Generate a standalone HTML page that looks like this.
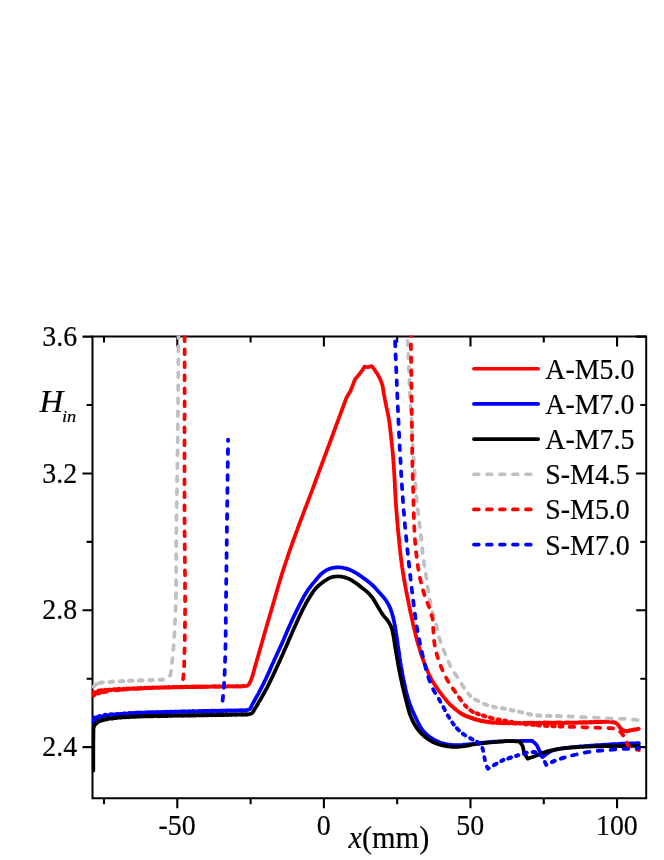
<!DOCTYPE html>
<html><head><meta charset="utf-8"><title>H_in vs x</title>
<style>
html,body{margin:0;padding:0;background:#fff;}
body{width:664px;height:860px;position:relative;overflow:hidden;font-family:"Liberation Serif",serif;}
svg{position:absolute;left:0;top:0;display:block;will-change:transform;}
.t{font-family:"Liberation Serif",serif;fill:#000;stroke:#000;stroke-width:0.18px;}
</style></head><body>
<svg width="664" height="860" viewBox="0 0 664 860">
<defs><clipPath id="c"><rect x="91.5" y="335.5" width="555.7" height="463.75"/></clipPath></defs>
<path d="M104.01,336.5v5.9M104.01,798.25v5.9M177.30,336.5v10M177.30,798.25v10M250.59,336.5v5.9M250.59,798.25v5.9M323.88,336.5v10M323.88,798.25v10M397.18,336.5v5.9M397.18,798.25v5.9M470.47,336.5v10M470.47,798.25v10M543.76,336.5v5.9M543.76,798.25v5.9M617.06,336.5v10M617.06,798.25v10M92.5,747.10h-10M646.2,747.10h-10M92.5,678.68h-5.9M646.2,678.68h-5.9M92.5,610.27h-10M646.2,610.27h-10M92.5,541.85h-5.9M646.2,541.85h-5.9M92.5,473.44h-10M646.2,473.44h-10M92.5,405.02h-5.9M646.2,405.02h-5.9M92.5,336.60h-10M646.2,336.60h-10" stroke="#000" stroke-width="2.1" fill="none"/>
<rect x="92.5" y="336.5" width="553.7" height="461.75" fill="none" stroke="#000" stroke-width="2"/>
<g clip-path="url(#c)" fill="none" stroke-width="3.75" stroke-linejoin="round" stroke-linecap="round">
<path d="M93.3,692.3L93.9,695.7L94.4,695.0L95.0,692.2L95.6,693.1L96.2,692.7L96.8,693.4L97.4,693.8L98.0,690.8L98.7,690.4L99.3,693.3L100.0,691.7L100.7,692.6L101.3,690.1L102.0,691.3L102.6,692.0L103.2,690.5L103.8,692.4L104.4,692.1L105.1,689.7L105.7,689.7L106.3,690.9L106.9,691.7L107.5,690.3L108.1,689.9L108.8,690.3L109.4,689.4L110.0,689.7L110.6,690.1L111.2,690.1L111.9,689.6L112.5,689.5L113.1,689.4L113.7,689.8L114.4,689.5L115.0,688.9L115.6,690.3L116.2,689.8L116.9,689.9L117.5,689.1L118.1,690.3L118.7,690.0L119.4,688.8L120.0,689.1L120.6,689.7L121.2,689.6L121.9,689.9L122.5,689.1L123.0,689.6L123.4,689.4L123.9,688.8L124.4,689.2L124.8,689.5L125.3,689.5L125.7,689.0L126.2,689.1L126.7,688.4L127.1,688.6L127.6,689.2L128.1,688.8L128.5,688.4L129.0,688.9L129.4,689.0L129.9,688.9L130.4,688.6L130.8,688.6L131.3,688.7L131.8,688.9L132.2,688.7L132.7,688.5L133.1,688.6L133.6,688.1L134.1,688.1L134.5,688.7L135.0,688.9L135.4,688.6L135.7,688.4L136.1,688.2L136.4,688.4L136.8,688.8L137.1,688.6L137.5,688.4L137.8,688.7L138.2,688.1L138.5,688.3L138.9,688.7L139.2,688.4L139.6,688.3L139.9,688.1L140.3,688.3L140.6,688.6L141.0,687.8L141.4,688.4L141.7,688.5L142.1,688.5L142.4,688.4L142.8,688.4L143.1,688.2L143.5,688.2L143.8,688.1L144.2,687.8L144.5,688.4L144.9,688.1L145.2,687.8L145.6,688.1L145.9,688.0L146.3,687.9L146.6,687.9L147.0,688.0L147.3,688.1L147.6,688.1L147.9,687.9L148.2,687.6L148.5,687.8L148.8,687.7L149.1,688.0L149.4,688.2L149.7,688.1L150.0,688.1L150.3,688.1L150.6,687.7L150.9,688.1L151.2,688.0L151.5,687.6L151.8,687.5L152.1,687.5L152.4,688.0L152.7,687.6L153.0,687.5L153.3,687.9L153.7,687.7L154.0,687.5L154.3,687.6L154.6,687.8L154.9,687.5L155.2,687.6L155.5,687.9L155.8,687.7L156.1,687.6L156.4,687.7L156.7,687.4L157.0,687.6L157.3,687.6L157.6,687.5L157.9,687.4L158.2,687.9L158.5,687.7L158.8,687.5L159.1,687.7L159.4,687.8L159.7,687.3L160.0,687.3L160.3,687.4L160.6,687.7L160.9,687.4L161.2,687.7L161.5,687.7L161.8,687.6L162.1,687.4L162.4,687.8L162.7,687.7L163.0,687.5L163.4,687.3L163.7,687.6L164.0,687.4L164.3,687.5L164.6,687.3L164.9,687.5L165.2,687.2L165.5,687.3L165.8,687.7L166.1,687.6L166.4,687.3L166.7,687.6L167.0,687.3L167.3,687.6L167.6,687.5L167.9,687.3L168.2,687.2L168.5,687.0L168.8,687.5L169.1,687.0L169.5,687.5L169.8,687.6L170.1,687.3L170.4,687.1L170.7,687.5L171.0,687.5L171.3,687.4L171.6,687.2L171.9,687.1L172.2,687.1L172.5,687.0L172.8,687.3L173.1,687.1L173.4,687.0L173.7,686.9L174.0,687.3L174.3,687.0L174.6,687.1L174.9,687.0L175.2,687.4L175.5,687.4L175.8,686.8L176.1,686.9L176.4,687.0L176.7,687.4L177.0,687.3L177.3,687.0L177.6,686.9L177.9,687.2L178.2,687.3L178.5,687.3L178.8,687.0L179.1,687.3L179.4,687.1L179.7,687.0L180.0,687.3L180.3,686.9L180.6,687.1L180.9,686.8L181.2,686.8L181.5,687.2L181.8,686.8L182.1,687.1L182.4,687.0L182.7,687.2L183.0,686.9L183.3,686.9L183.6,686.8L183.9,687.2L184.2,687.0L184.5,687.2L184.8,687.2L185.1,686.7L185.4,687.0L185.7,686.7L186.0,686.6L186.3,686.7L186.6,687.1L186.9,687.1L187.2,687.1L187.5,686.8L187.8,687.0L188.1,687.1L188.4,686.8L188.7,686.9L189.0,686.7L189.3,686.6L189.6,686.7L189.9,687.1L190.2,686.9L190.5,687.1L190.8,686.8L191.1,686.7L191.4,687.0L191.7,687.0L192.0,686.5L192.4,686.9L192.7,686.6L193.0,686.6L193.3,687.0L193.6,686.5L193.9,686.6L194.2,687.1L194.5,686.8L194.8,686.6L195.1,686.6L195.4,686.6L195.7,686.9L196.0,686.5L196.3,687.0L196.6,686.7L196.9,687.1L197.2,687.0L197.5,686.6L197.8,686.6L198.1,686.7L198.4,686.5L198.7,686.8L199.0,686.5L199.3,686.4L199.6,687.0L199.9,686.6L200.2,686.8L200.5,686.7L200.8,686.6L201.1,686.5L201.4,687.0L201.7,687.0L202.0,687.0L202.3,686.5L202.6,686.5L202.9,686.8L203.2,687.0L203.5,686.7L203.8,686.8L204.1,686.8L204.4,686.5L204.7,686.7L205.0,686.6L205.3,686.5L205.6,686.4L205.9,686.5L206.2,687.0L206.5,686.6L206.8,686.7L207.1,686.7L207.4,686.9L207.7,686.6L208.0,686.5L208.3,686.5L208.6,686.5L208.9,686.8L209.2,686.9L209.5,686.5L209.8,686.5L210.1,686.6L210.4,686.7L210.7,686.7L211.0,686.4L211.3,686.3L211.6,686.4L211.9,686.3L212.2,686.6L212.5,686.3L212.8,686.3L213.1,686.7L213.4,686.4L213.7,686.7L214.0,686.6L214.3,686.8L214.6,686.3L214.9,686.5L215.2,686.7L215.5,686.3L215.8,686.8L216.1,686.3L216.4,686.7L216.7,686.8L217.0,686.7L217.3,686.4L217.6,686.3L217.9,686.5L218.2,686.8L218.5,686.4L218.8,686.7L219.1,686.3L219.4,686.7L219.7,686.2L220.0,686.4L220.3,686.7L220.6,686.7L220.9,686.7L221.2,686.7L221.5,686.6L221.8,686.6L222.1,686.3L222.4,686.4L222.7,686.2L223.0,686.6L223.3,686.5L223.6,686.3L223.9,686.2L224.2,686.7L224.5,686.6L224.8,686.5L225.1,686.4L225.4,686.6L225.7,686.4L226.0,686.3L226.3,686.3L226.6,686.3L226.9,686.1L227.2,686.5L227.5,686.3L227.8,686.4L228.1,686.1L228.4,686.3L228.7,686.2L229.0,686.2L229.3,686.2L229.6,686.6L229.9,686.3L230.2,686.3L230.5,686.4L230.8,686.2L231.1,686.1L231.4,686.4L231.7,686.3L232.0,686.4L232.3,686.3L232.6,686.4L232.9,686.5L233.2,686.2L233.5,686.3L233.8,686.3L234.1,686.2L234.4,686.3L234.7,686.3L235.0,686.6L235.3,686.6L235.6,686.2L235.9,686.4L236.2,686.0L236.5,686.0L236.8,686.3L237.1,686.5L237.4,686.1L237.7,686.4L238.0,686.5L238.3,686.2L238.6,686.4L238.9,686.5L239.2,686.2L239.5,686.4L239.8,686.4L240.1,686.3L240.4,686.5L240.7,686.5L241.0,686.5L241.3,686.3L241.6,686.0L241.9,686.1L242.2,686.1L242.5,686.3L242.8,686.4L243.1,685.9L243.4,686.3L243.7,686.3L244.0,686.1L245.8,686.0L247.5,685.6L248.8,684.4L249.8,682.8L250.6,681.1L251.3,679.3L251.9,677.5L252.4,676.0L252.9,674.4L253.4,672.9L253.8,671.3L254.2,669.7L254.6,668.1L255.1,666.6L255.5,665.0L255.9,663.5L256.4,662.0L256.8,660.5L257.2,659.0L257.7,657.6L258.1,656.1L258.5,654.6L258.9,653.1L259.4,651.6L259.8,650.1L260.2,648.6L260.7,647.1L261.1,645.5L261.5,644.0L262.0,642.5L262.4,641.0L262.8,639.5L263.3,637.9L263.7,636.4L264.1,634.9L264.6,633.4L265.0,631.9L265.4,630.3L265.9,628.8L266.3,627.3L266.7,625.8L267.1,624.4L267.6,622.9L268.0,621.5L268.4,620.0L268.8,618.5L269.3,617.1L269.7,615.6L270.1,614.2L270.6,612.7L271.0,611.3L271.4,609.8L271.8,608.3L272.3,606.9L272.7,605.4L273.1,604.0L273.5,602.5L274.0,601.1L274.4,599.6L274.8,598.1L275.3,596.6L275.7,595.1L276.1,593.6L276.6,592.1L277.0,590.5L277.4,589.0L277.9,587.5L278.3,586.0L278.7,584.5L279.2,583.0L279.6,581.5L280.1,580.0L280.6,578.5L281.1,576.9L281.5,575.4L282.0,573.8L282.5,572.3L283.0,570.7L283.5,569.2L284.0,567.7L284.5,566.1L285.0,564.6L285.5,563.0L286.0,561.5L286.5,560.1L287.0,558.6L287.4,557.2L287.9,555.8L288.4,554.3L288.9,552.9L289.4,551.5L289.9,550.1L290.4,548.6L290.9,547.2L291.4,545.8L291.9,544.4L292.4,542.9L292.9,541.5L293.4,540.1L293.9,538.7L294.5,537.3L295.0,535.8L295.5,534.4L296.0,533.0L296.5,531.6L297.1,530.1L297.6,528.7L298.1,527.2L298.7,525.8L299.2,524.4L299.7,522.9L300.3,521.5L300.8,520.0L301.4,518.6L301.9,517.2L302.5,515.7L303.0,514.3L303.5,512.9L304.1,511.4L304.6,510.0L305.2,508.6L305.7,507.1L306.3,505.7L306.8,504.2L307.4,502.8L307.9,501.4L308.5,499.9L309.0,498.5L309.6,497.0L310.1,495.6L310.7,494.1L311.2,492.6L311.8,491.1L312.3,489.7L312.9,488.2L313.4,486.7L314.0,485.2L314.5,483.8L315.1,482.3L315.6,480.8L316.2,479.3L316.7,477.9L317.3,476.4L317.8,474.9L318.4,473.4L318.9,472.0L319.4,470.5L320.0,469.0L320.5,467.6L321.1,466.2L321.6,464.8L322.1,463.4L322.6,461.9L323.2,460.5L323.7,459.1L324.2,457.7L324.7,456.3L325.3,454.9L325.8,453.5L326.3,452.1L326.8,450.7L327.4,449.3L327.9,447.8L328.4,446.4L329.0,445.0L329.5,443.6L330.0,442.2L330.5,440.8L331.1,439.3L331.6,437.9L332.1,436.5L332.7,435.0L333.2,433.6L333.7,432.2L334.2,430.7L334.8,429.3L335.3,427.8L335.8,426.4L336.3,425.0L336.9,423.5L337.4,422.1L337.9,420.7L338.5,419.2L339.0,417.8L339.5,416.3L340.1,414.9L340.6,413.4L341.2,412.0L341.7,410.5L342.3,409.1L342.8,407.6L343.3,406.1L343.9,404.7L344.4,403.2L345.0,401.8L345.5,400.3L346.1,398.9L346.6,397.4L347.2,396.5L347.7,395.6L348.3,394.7L348.8,393.7L349.4,392.8L349.9,391.9L350.5,391.0L350.9,390.0L351.2,389.1L351.6,388.1L352.0,387.1L352.4,386.2L352.8,385.2L353.1,384.2L353.5,383.3L353.9,382.3L354.2,381.3L354.6,380.4L355.0,379.4L356.0,378.2L356.9,377.1L357.9,375.9L358.9,374.8L359.8,373.6L360.7,372.4L361.7,371.0L362.7,369.6L363.6,368.1L364.6,366.7L366.2,367.0L367.8,367.1L369.8,366.7L371.8,366.1L373.0,367.6L374.2,369.2L375.1,370.5L376.0,371.9L376.9,373.2L377.8,374.6L378.6,376.1L379.3,377.5L380.0,378.9L380.7,380.4L381.3,381.8L381.8,383.3L382.3,385.0L382.7,386.6L383.0,388.3L383.2,390.1L383.5,391.8L383.8,393.5L384.1,395.1L384.4,396.7L384.7,398.3L385.0,399.9L385.4,401.5L385.7,403.1L386.0,404.7L386.3,406.3L386.6,407.9L387.0,409.5L387.3,411.1L387.7,412.7L388.0,414.3L388.3,415.9L388.6,417.5L388.9,419.1L389.1,420.6L389.4,422.2L389.6,423.7L389.8,425.2L389.9,426.8L390.1,428.3L390.3,429.9L390.5,431.4L390.6,433.0L390.8,434.5L391.0,436.0L391.1,437.5L391.3,439.0L391.5,440.5L391.6,442.0L391.8,443.4L392.0,444.9L392.1,446.4L392.3,447.9L392.4,449.4L392.6,450.9L392.7,452.4L392.8,454.0L393.0,455.6L393.1,457.2L393.2,458.8L393.3,460.4L393.5,462.0L393.6,463.6L393.7,465.2L393.8,466.8L393.9,468.4L394.0,470.0L394.1,471.5L394.2,473.0L394.3,474.6L394.4,476.1L394.5,477.6L394.6,479.1L394.6,480.7L394.7,482.2L394.8,483.7L394.9,485.2L394.9,486.7L395.0,488.3L395.1,489.8L395.2,491.3L395.3,492.8L395.3,494.4L395.4,495.9L395.5,497.4L395.6,498.9L395.7,500.4L395.8,502.0L395.9,503.5L396.0,505.0L396.1,506.5L396.2,508.0L396.3,509.5L396.4,511.0L396.6,512.5L396.7,514.0L396.8,515.5L396.9,517.0L397.0,518.5L397.2,520.0L397.3,521.5L397.4,523.0L397.5,524.5L397.7,526.0L397.8,527.5L397.9,529.0L398.1,530.5L398.2,532.0L398.4,533.5L398.5,535.0L398.7,536.6L398.8,538.1L399.0,539.7L399.1,541.3L399.3,542.8L399.4,544.4L399.6,545.9L399.7,547.5L399.9,549.1L400.1,550.6L400.3,552.2L400.4,553.8L400.6,555.3L400.8,556.9L401.0,558.4L401.2,560.0L401.4,561.5L401.6,563.0L401.8,564.6L402.0,566.1L402.2,567.6L402.5,569.1L402.7,570.6L402.9,572.1L403.2,573.6L403.4,575.2L403.6,576.7L403.9,578.2L404.1,579.7L404.4,581.2L404.7,582.7L404.9,584.2L405.2,585.7L405.5,587.2L405.8,588.7L406.1,590.3L406.4,591.8L406.7,593.3L407.0,594.8L407.3,596.3L407.6,597.8L407.9,599.3L408.2,600.8L408.5,602.3L408.8,603.8L409.1,605.3L409.4,606.8L409.7,608.3L410.0,609.8L410.3,611.4L410.6,612.9L411.0,614.4L411.3,615.9L411.6,617.4L411.9,618.9L412.3,620.4L412.6,621.9L412.9,623.4L413.3,625.0L413.6,626.5L414.0,628.0L414.4,629.5L414.7,631.1L415.1,632.6L415.5,634.1L415.8,635.6L416.2,637.1L416.6,638.7L417.0,640.2L417.4,641.7L417.9,643.2L418.3,644.7L418.7,646.2L419.2,647.7L419.7,649.2L420.1,650.8L420.6,652.3L421.1,653.8L421.6,655.3L422.1,656.8L422.6,658.3L423.1,659.8L423.7,661.2L424.2,662.7L424.8,664.2L425.4,665.7L426.0,667.2L426.6,668.7L427.2,670.2L427.8,671.7L428.5,673.2L429.2,674.7L429.8,676.2L430.6,677.6L431.3,679.1L432.1,680.5L433.0,681.9L433.8,683.4L434.8,684.8L435.7,686.2L436.7,687.6L437.6,688.9L438.6,690.3L439.5,691.5L440.4,692.8L441.3,694.0L442.2,695.2L443.2,696.4L444.1,697.6L445.1,698.8L445.2,698.9L445.3,699.0L445.4,699.2L445.5,699.3L445.6,699.4L445.7,699.5L445.8,699.6L445.9,699.7L446.0,699.9L446.0,700.0L446.1,700.1L446.2,700.2L446.3,700.3L446.4,700.4L446.5,700.6L446.6,700.7L446.7,700.8L446.8,701.0L446.9,701.0L447.0,701.2L447.1,701.2L447.2,701.3L447.3,701.5L447.4,701.5L447.5,701.8L447.6,701.9L447.7,701.9L447.8,702.1L447.9,702.2L448.0,702.2L448.1,702.4L448.2,702.5L448.3,702.7L448.4,702.6L448.5,702.8L448.6,703.0L448.7,703.0L448.8,703.2L448.9,703.3L449.0,703.5L449.1,703.5L449.2,703.6L449.3,703.8L449.4,703.8L449.5,704.0L449.6,704.0L449.7,704.2L449.8,704.4L449.9,704.5L450.0,704.6L450.1,704.6L450.2,704.7L450.3,704.9L450.4,705.0L450.5,705.1L450.7,705.1L450.8,705.2L450.9,705.2L451.0,705.5L451.1,705.4L451.2,705.7L451.3,705.8L451.4,706.0L451.6,706.0L451.7,706.2L451.8,706.0L451.9,706.3L452.0,706.4L452.1,706.4L452.2,706.6L452.4,706.6L452.5,706.8L452.6,706.7L452.7,706.9L452.8,707.0L452.9,707.1L453.1,707.2L453.2,707.5L453.3,707.5L453.4,707.5L453.5,707.7L453.7,707.7L453.8,707.7L453.9,707.7L454.0,707.9L454.1,708.2L454.3,708.4L454.4,708.4L454.5,708.4L454.6,708.7L454.7,708.6L454.9,708.8L455.0,708.7L455.1,709.0L455.2,709.2L455.3,709.0L455.5,709.0L455.6,709.3L455.7,709.3L455.8,709.4L455.9,709.3L456.1,709.6L456.2,709.7L456.3,709.8L456.5,710.1L456.7,710.2L456.9,710.4L457.1,710.6L457.3,710.7L457.5,710.7L457.7,711.0L457.9,711.1L458.1,711.3L458.3,711.5L458.6,711.5L458.8,711.8L459.0,711.9L459.2,712.3L459.4,712.3L459.6,712.5L459.8,712.6L460.0,712.8L460.2,712.8L460.4,712.8L460.6,712.9L460.9,713.3L461.1,713.6L461.3,713.5L461.5,713.4L461.7,714.0L461.9,713.9L462.2,714.0L462.4,713.9L462.6,714.3L462.9,714.6L463.2,714.6L463.6,714.7L463.9,715.1L464.2,714.8L464.5,715.3L464.9,715.8L465.2,715.7L465.5,715.7L465.9,716.0L466.2,716.1L466.5,715.9L466.9,716.1L467.2,716.7L467.6,716.4L467.9,716.4L468.3,717.1L468.6,717.0L468.9,717.0L469.3,717.2L469.6,717.5L470.0,717.2L470.3,717.7L470.7,717.8L471.0,718.1L471.4,717.8L471.8,718.2L472.2,718.0L472.5,718.4L472.9,718.2L473.3,718.8L473.7,719.0L474.1,718.7L474.5,718.8L474.9,719.5L475.3,719.4L475.7,719.6L476.1,719.1L476.4,719.9L476.8,719.8L477.2,719.7L477.6,719.9L478.0,720.2L478.4,720.4L478.8,720.0L479.2,720.4L479.6,720.2L480.0,720.9L480.4,720.6L480.8,721.1L481.2,721.0L481.6,721.0L482.0,720.8L482.4,721.1L482.8,720.9L483.2,720.9L483.6,721.5L484.0,721.3L484.4,721.6L484.8,721.3L485.2,721.7L485.6,721.8L486.1,721.5L486.5,721.4L486.9,721.7L487.3,721.9L487.7,721.6L488.1,721.7L488.5,721.7L488.9,722.1L489.3,722.4L489.7,721.9L490.2,721.8L490.6,722.4L491.0,722.5L491.4,722.7L491.8,722.5L492.2,722.3L492.6,722.7L493.0,722.2L493.4,722.7L493.8,722.2L494.2,722.5L494.6,722.6L495.1,722.5L495.5,722.4L495.9,722.4L496.3,722.9L496.7,722.7L497.1,722.8L497.5,722.5L497.9,722.9L498.3,722.6L498.7,722.9L499.1,723.1L499.5,723.2L500.0,722.5L500.4,723.1L500.8,723.1L501.2,722.7L501.6,722.8L502.0,723.0L502.4,723.3L502.8,722.9L503.2,723.3L503.6,723.2L504.0,722.7L504.4,723.3L504.8,722.6L505.2,722.7L505.6,723.2L506.0,722.7L506.4,723.0L506.8,722.8L507.2,723.0L507.7,723.3L508.1,723.4L508.5,722.7L508.9,722.7L509.3,723.4L509.7,722.7L510.1,722.9L510.5,722.8L510.9,722.8L511.3,722.8L511.7,723.2L512.1,723.3L512.5,723.3L512.9,723.4L513.3,723.3L513.7,723.1L514.1,723.3L514.5,723.5L514.9,723.3L515.3,723.0L515.7,722.8L516.1,723.5L516.5,723.2L516.9,723.0L517.3,723.2L517.7,723.2L518.2,723.2L518.6,722.8L519.0,723.0L519.4,723.1L519.8,722.9L520.2,723.5L520.6,723.1L521.0,723.3L521.4,723.3L521.8,723.3L522.2,723.3L522.6,723.3L523.0,722.9L523.4,723.5L523.8,722.8L524.2,723.4L524.6,723.4L525.0,723.4L525.4,722.7L525.8,722.8L526.2,723.3L526.6,723.1L527.0,723.0L527.4,723.5L527.9,722.7L528.3,723.1L528.7,723.0L529.1,722.8L529.5,723.0L529.9,723.2L530.3,723.3L530.7,722.7L531.1,723.0L531.5,722.7L531.9,723.3L532.3,722.7L532.7,722.6L533.1,722.9L533.5,723.2L533.9,722.8L534.3,722.7L534.7,723.2L535.1,723.2L535.5,723.3L535.9,722.8L536.3,722.9L536.7,722.7L537.1,723.0L537.6,722.8L538.0,722.8L538.4,723.2L538.8,723.3L539.2,723.0L539.6,722.6L540.0,723.0L540.4,722.9L540.8,723.3L541.2,723.1L541.6,723.2L542.0,723.1L542.4,722.9L542.7,723.2L542.9,723.2L543.2,722.7L543.4,722.6L543.7,722.8L543.9,722.9L544.2,722.6L544.4,722.8L544.7,722.9L544.9,722.5L545.2,723.1L545.4,723.0L545.7,722.7L545.9,722.7L546.2,722.8L546.4,722.7L546.7,723.1L546.9,722.9L547.2,722.9L547.4,722.6L547.7,723.2L547.9,722.7L548.2,722.7L548.4,722.5L548.7,723.2L548.9,722.8L549.2,723.2L549.4,723.2L549.7,723.2L549.9,723.1L550.2,723.2L550.4,723.2L550.7,723.1L550.9,722.6L551.2,722.9L551.4,722.9L551.7,723.2L551.9,723.1L552.2,723.0L552.4,723.0L552.7,722.7L552.9,723.2L553.2,722.9L553.4,722.8L553.7,722.8L553.9,723.2L554.2,722.9L554.4,722.6L554.7,722.6L554.9,723.0L555.2,722.9L555.4,723.1L555.7,722.6L555.9,722.8L556.2,723.0L556.4,722.5L556.7,722.5L556.9,722.8L557.2,722.6L557.4,722.5L557.7,722.6L557.9,722.9L558.2,722.8L558.4,722.5L558.7,722.5L558.9,723.0L559.2,722.9L559.4,722.6L559.7,723.0L559.9,722.5L560.2,722.7L560.4,723.0L560.7,722.9L561.0,722.6L561.2,723.0L561.5,722.8L561.7,723.0L562.0,723.0L562.2,722.7L562.5,722.9L562.7,722.8L563.0,723.0L563.2,722.9L563.5,722.9L563.7,722.9L564.0,723.1L564.2,722.6L564.5,722.6L564.7,722.9L565.0,722.9L565.2,722.7L565.5,722.7L565.7,722.7L566.0,723.0L566.2,722.9L566.5,722.8L566.7,722.4L567.0,722.9L567.2,722.7L567.5,722.5L567.7,722.6L568.0,722.8L568.2,722.4L568.5,722.5L568.7,722.6L569.0,722.9L569.2,722.8L569.5,723.0L569.7,722.7L570.0,722.7L570.2,722.7L570.5,722.7L570.7,722.7L571.0,722.8L571.2,722.9L571.5,722.6L571.7,722.7L572.0,722.5L572.2,722.5L572.5,722.6L572.7,722.7L573.0,722.7L573.2,722.9L573.5,722.4L573.7,722.7L574.0,722.9L574.2,722.7L574.5,722.6L574.7,722.5L575.0,722.5L575.2,722.8L575.5,722.8L575.7,722.7L576.0,722.8L576.2,722.8L576.5,722.8L576.7,722.5L577.0,722.5L577.2,722.7L577.5,722.5L577.7,722.7L578.0,722.5L578.2,722.5L578.5,722.5L578.7,722.3L579.0,722.4L579.2,722.5L579.5,722.3L579.7,722.3L580.0,722.4L580.2,722.7L580.4,722.5L580.6,722.4L580.8,722.7L581.0,722.4L581.2,722.5L581.4,722.6L581.6,722.6L581.8,722.4L582.0,722.6L582.2,722.4L582.4,722.6L582.6,722.4L582.8,722.7L583.0,722.5L583.2,722.2L583.4,722.2L583.6,722.6L583.8,722.3L584.0,722.2L584.2,722.3L584.4,722.4L584.6,722.6L584.8,722.3L585.0,722.5L585.2,722.5L585.4,722.2L585.6,722.4L585.8,722.6L586.0,722.4L586.2,722.4L586.4,722.3L586.6,722.5L586.8,722.6L587.0,722.1L587.2,722.3L587.4,722.3L587.6,722.4L587.8,722.1L588.0,722.2L588.2,722.2L588.4,722.3L588.6,722.4L588.8,722.4L589.0,722.4L589.2,722.3L589.4,722.1L589.6,722.2L589.8,722.3L590.0,722.1L590.2,722.2L590.4,722.4L590.6,722.0L590.8,722.4L591.0,722.0L591.2,722.1L591.4,722.4L591.6,722.1L591.8,722.2L592.0,722.1L592.2,722.3L592.4,722.4L592.6,722.1L592.8,722.1L593.0,722.3L593.2,722.2L593.4,722.0L593.6,722.2L593.8,722.0L594.0,722.1L594.2,721.9L594.4,722.3L594.6,722.2L594.8,722.3L595.0,722.3L595.2,722.0L595.4,722.1L595.6,722.0L595.8,722.2L596.0,722.2L596.2,721.9L596.4,721.9L596.6,722.1L596.8,722.0L597.0,721.9L597.2,721.9L597.4,722.0L597.6,722.0L597.8,722.2L598.0,722.0L598.2,722.0L598.4,721.8L598.6,721.9L598.8,721.9L599.0,722.0L599.2,721.8L599.4,721.8L599.6,721.9L599.8,721.9L600.0,721.8L600.2,722.0L600.4,721.8L600.6,722.1L600.8,722.0L601.0,721.9L601.2,721.7L601.4,721.8L601.6,721.9L601.8,721.9L602.0,722.0L602.2,722.0L602.4,721.8L602.6,721.8L602.8,721.8L603.0,721.7L603.2,721.7L603.4,721.7L603.6,721.6L603.8,721.8L604.0,721.9L604.2,721.8L604.4,721.9L604.6,721.7L604.8,721.6L605.0,721.8L605.2,721.9L605.4,721.7L605.6,721.5L605.8,721.5L606.0,721.6L606.2,721.8L606.4,721.5L606.6,721.6L606.8,721.8L607.0,721.9L607.2,721.6L607.4,721.7L607.6,721.7L607.8,721.5L608.0,721.6L608.2,721.5L608.4,721.5L608.6,721.8L608.8,721.7L609.0,721.4L609.2,721.5L609.4,721.7L609.6,721.5L609.8,721.5L610.0,721.5L610.2,721.5L610.4,721.5L610.6,721.6L610.8,721.7L611.0,722.0L611.2,721.9L611.4,721.8L611.6,722.0L611.8,721.9L612.1,722.0L612.3,722.0L612.5,722.3L612.7,722.1L612.9,722.3L613.1,722.2L613.3,722.4L613.5,722.3L613.7,722.5L613.9,722.3L614.1,722.5L614.3,722.5L614.5,722.5L614.7,722.6L614.9,722.7L615.1,722.7L615.3,722.9L615.5,722.9L615.6,722.9L615.8,722.8L616.0,723.1L616.2,723.1L616.3,723.2L616.5,723.4L616.7,723.5L616.8,723.5L617.0,723.7L617.1,723.9L617.3,724.0L617.4,724.1L617.5,724.2L617.7,724.4L617.8,724.7L617.9,724.8L618.1,725.0L618.2,725.3L618.3,725.4L618.4,725.5L618.6,725.4L618.7,725.7L618.8,726.0L618.9,726.0L619.1,726.5L619.2,726.3L619.3,726.8L619.4,726.7L619.5,727.1L619.7,727.3L619.8,727.3L619.9,727.7L620.1,727.6L620.2,728.0L620.3,728.0L620.5,728.1L620.6,728.2L620.7,728.5L620.9,728.5L621.0,728.8L621.2,729.0L621.3,729.1L621.5,729.0L621.6,729.5L621.8,729.6L622.0,729.6L622.1,729.6L622.3,729.8L622.5,730.0L622.7,729.9L622.9,730.1L623.1,730.2L623.2,730.2L623.4,730.5L623.6,730.4L623.8,730.5L624.0,730.4L624.2,730.7L624.4,730.6L624.6,730.9L624.8,730.7L624.9,730.8L625.1,731.0L625.3,731.1L625.5,731.3L625.7,731.3L625.9,731.3L626.1,731.5L626.3,731.4L626.5,731.3L626.7,731.3L626.9,731.3L627.1,731.0L627.3,731.2L627.5,730.9L627.7,731.0L627.9,730.9L628.1,730.8L628.3,731.0L628.5,731.0L628.7,730.7L628.9,730.9L629.1,730.6L629.3,730.7L629.5,730.8L629.7,730.7L629.9,730.3L630.1,730.5L630.3,730.4L630.5,730.3L630.7,730.5L630.9,730.3L631.1,730.4L631.3,730.3L631.5,730.2L631.7,730.0L631.9,730.2L632.1,730.2L632.3,729.9L632.5,730.1L632.7,730.0L632.9,729.9L633.1,730.0L633.3,730.0L633.5,729.6L633.7,729.9L633.9,729.7L634.1,729.8L634.3,729.5L634.5,729.7L634.7,729.4L634.9,729.5L635.1,729.7L635.3,729.6L635.5,729.6L635.7,729.4L635.9,729.4L636.1,729.4L636.3,729.4L636.5,729.4L636.7,729.1L636.9,729.2L637.1,729.2L637.3,729.2L637.5,729.3L637.7,729.2L637.9,728.9L638.1,729.0L638.3,728.8L638.5,728.8L638.7,728.8L638.9,728.8" stroke="#ff0000"/>
<path d="M93.3,722.5L93.7,722.0L94.1,717.8L94.5,717.5L95.0,720.1L95.6,719.3L96.1,718.7L96.8,717.2L97.4,717.9L98.0,717.6L98.6,717.3L99.3,716.0L99.9,716.5L100.5,716.2L101.2,716.8L101.8,717.2L102.5,716.9L103.1,715.9L103.7,715.6L104.4,715.2L105.0,714.7L105.6,714.6L106.2,715.3L106.9,715.0L107.5,715.0L108.1,715.7L108.7,715.1L109.4,715.1L110.0,714.5L110.5,714.2L110.9,714.6L111.4,714.3L111.8,714.7L112.3,715.3L112.7,714.8L113.2,714.2L113.6,715.0L114.1,714.8L114.5,714.7L115.0,714.9L115.4,714.7L115.9,714.6L116.4,714.1L116.8,714.8L117.3,714.7L117.7,713.8L118.2,714.4L118.6,714.3L119.1,714.0L119.5,714.1L120.0,714.0L120.3,714.4L120.6,714.0L120.9,714.2L121.2,713.8L121.5,714.2L121.8,714.2L122.1,713.8L122.4,713.9L122.7,714.2L123.0,714.0L123.3,713.8L123.6,713.5L123.9,713.6L124.2,713.9L124.5,713.4L124.8,714.0L125.1,713.5L125.4,714.0L125.7,713.5L126.0,713.9L126.3,713.7L126.6,713.6L126.9,713.6L127.2,713.6L127.5,713.6L127.8,713.3L128.1,713.3L128.4,713.5L128.7,713.8L129.0,713.5L129.3,713.1L129.6,713.6L129.9,713.5L130.2,713.6L130.5,713.1L130.8,713.5L131.1,713.0L131.4,713.4L131.7,713.1L132.0,713.1L132.3,713.5L132.6,713.0L132.9,713.2L133.2,713.4L133.5,713.0L133.8,713.0L134.1,713.4L134.4,713.1L134.7,713.2L135.0,712.8L135.3,713.0L135.6,712.9L135.9,713.2L136.2,712.8L136.5,713.3L136.8,712.7L137.1,713.1L137.4,712.7L137.7,712.8L138.0,713.1L138.3,712.7L138.6,712.7L138.9,713.0L139.2,712.8L139.5,712.6L139.8,713.2L140.1,712.6L140.4,712.6L140.7,712.7L141.0,712.9L141.3,712.9L141.6,712.6L141.9,712.7L142.2,712.5L142.5,712.7L142.8,712.9L143.1,712.9L143.4,713.0L143.7,712.9L144.0,712.9L144.3,712.8L144.6,712.6L144.9,712.5L145.2,712.7L145.5,712.5L145.8,712.4L146.1,712.6L146.4,712.8L146.7,712.4L147.0,712.6L147.3,712.5L147.6,712.6L147.9,712.3L148.2,712.8L148.5,712.4L148.8,712.6L149.1,712.5L149.4,712.2L149.7,712.5L150.0,712.3L150.3,712.2L150.6,712.2L150.9,712.2L151.2,712.2L151.5,712.5L151.8,712.4L152.1,712.7L152.4,712.7L152.7,712.7L153.0,712.2L153.3,712.3L153.6,712.2L153.9,712.4L154.2,712.4L154.5,712.5L154.8,712.5L155.1,712.2L155.4,712.3L155.7,712.3L156.0,712.0L156.3,712.0L156.6,712.2L156.9,712.0L157.2,712.4L157.5,712.1L157.8,712.0L158.1,712.0L158.4,712.1L158.7,712.1L159.0,712.2L159.3,712.2L159.6,712.1L159.9,712.3L160.2,712.0L160.5,712.4L160.8,712.4L161.1,712.3L161.4,712.1L161.7,712.2L162.0,712.2L162.3,711.9L162.6,712.1L162.9,712.1L163.2,711.9L163.5,711.9L163.8,712.3L164.1,712.0L164.4,712.1L164.7,712.3L165.0,712.1L165.3,711.9L165.6,712.3L165.9,712.0L166.2,711.7L166.5,712.1L166.8,711.8L167.1,711.9L167.4,712.2L167.7,712.1L168.0,711.7L168.3,712.0L168.6,711.9L168.9,712.0L169.2,711.8L169.5,712.0L169.8,711.7L170.1,711.8L170.4,711.9L170.7,712.2L171.0,711.7L171.3,712.1L171.6,711.7L171.9,711.9L172.2,711.8L172.5,711.9L172.8,712.0L173.1,711.8L173.4,711.6L173.7,711.6L174.0,711.6L174.3,712.1L174.6,711.9L174.9,712.1L175.2,711.9L175.5,711.5L175.8,711.9L176.1,712.0L176.4,711.9L176.7,711.8L177.0,711.7L177.3,711.7L177.6,711.9L177.9,711.6L178.2,711.8L178.5,711.7L178.8,712.0L179.1,711.9L179.4,712.0L179.7,711.9L180.0,711.6L180.3,711.5L180.6,711.7L180.9,711.5L181.2,711.6L181.5,711.8L181.8,711.9L182.1,711.7L182.4,711.8L182.7,711.4L183.0,711.5L183.3,711.9L183.6,711.4L183.9,711.5L184.2,711.3L184.5,711.3L184.8,711.8L185.1,711.9L185.4,711.7L185.7,711.3L186.0,711.4L186.3,711.4L186.6,711.6L186.9,711.6L187.2,711.5L187.5,711.5L187.8,711.3L188.1,711.5L188.4,711.8L188.7,711.6L189.0,711.2L189.3,711.5L189.6,711.6L189.9,711.3L190.2,711.7L190.5,711.4L190.8,711.6L191.1,711.4L191.4,711.7L191.7,711.6L192.0,711.4L192.3,711.2L192.6,711.4L192.9,711.1L193.2,711.4L193.5,711.6L193.8,711.2L194.1,711.4L194.4,711.3L194.7,711.3L195.0,711.5L195.3,711.6L195.6,711.4L195.9,711.3L196.2,711.6L196.5,711.2L196.8,711.4L197.1,711.4L197.4,711.4L197.7,711.5L198.0,711.1L198.3,711.3L198.6,711.2L198.9,711.4L199.2,711.5L199.5,711.3L199.8,710.9L200.1,711.2L200.4,711.3L200.7,711.4L201.0,711.3L201.3,711.4L201.6,710.9L201.9,711.5L202.2,711.3L202.5,711.2L202.8,711.4L203.1,711.4L203.5,710.9L203.8,711.3L204.1,711.3L204.4,711.0L204.7,711.3L205.0,711.2L205.3,710.9L205.6,711.3L205.9,710.9L206.2,711.2L206.5,711.1L206.8,710.9L207.1,711.1L207.4,711.1L207.7,710.9L208.0,711.3L208.3,710.8L208.6,710.8L208.9,711.0L209.2,711.2L209.5,711.1L209.8,711.2L210.1,711.0L210.4,711.1L210.7,710.9L211.0,710.9L211.3,711.0L211.6,710.7L211.9,710.7L212.2,711.1L212.5,710.8L212.8,711.1L213.1,711.1L213.4,710.9L213.7,711.1L214.0,711.1L214.3,711.2L214.6,710.7L214.9,710.7L215.2,710.8L215.5,710.9L215.8,710.8L216.1,710.6L216.4,710.9L216.7,711.2L217.0,710.8L217.3,710.9L217.6,710.8L217.9,710.8L218.2,711.1L218.5,710.7L218.8,710.9L219.1,710.8L219.4,710.9L219.7,711.1L220.0,710.6L220.3,711.0L220.6,710.7L220.9,710.9L221.2,711.0L221.5,710.9L221.8,710.7L222.1,711.0L222.4,710.5L222.7,710.8L223.0,710.7L223.3,710.8L223.6,711.0L223.9,710.9L224.2,710.8L224.5,710.6L224.8,710.6L225.1,710.7L225.4,710.6L225.7,710.6L226.0,711.0L226.3,710.5L226.6,710.9L226.9,710.6L227.2,710.6L227.5,710.6L227.8,710.4L228.1,710.6L228.4,710.5L228.7,710.6L229.0,710.5L229.3,710.9L229.6,710.9L229.9,710.6L230.2,710.7L230.5,710.9L230.8,710.5L231.1,710.4L231.4,710.4L231.7,710.4L232.0,710.7L232.3,710.5L232.6,710.5L232.9,710.7L233.2,710.4L233.5,710.7L233.8,710.6L234.1,710.5L234.4,710.7L234.7,710.4L235.0,710.7L235.3,710.8L235.6,710.5L235.9,710.6L236.2,710.8L236.6,710.6L236.9,710.6L237.2,710.7L237.5,710.7L237.8,710.6L238.1,710.8L238.4,710.3L238.7,710.5L239.0,710.5L239.3,710.4L239.6,710.4L239.9,710.2L240.2,710.7L240.5,710.3L240.8,710.4L241.1,710.6L241.4,710.2L241.7,710.7L242.0,710.2L242.3,710.1L242.6,710.3L242.9,710.3L243.2,710.6L243.5,710.6L243.8,710.5L244.1,710.3L244.4,710.4L244.7,710.2L245.0,710.5L245.3,710.3L245.6,710.2L245.9,710.4L246.2,710.1L246.5,710.2L248.1,709.9L249.5,709.3L250.5,708.3L251.2,706.9L251.8,705.4L252.5,704.0L253.3,702.6L254.1,701.2L254.9,699.8L255.7,698.4L256.5,696.9L257.3,695.5L258.1,694.1L258.8,692.8L259.5,691.4L260.2,690.1L260.9,688.7L261.6,687.4L262.3,686.0L263.0,684.6L263.7,683.3L264.3,681.9L265.0,680.5L265.6,679.2L266.3,677.8L266.9,676.4L267.6,675.1L268.2,673.7L268.8,672.3L269.5,670.9L270.1,669.5L270.7,668.1L271.3,666.7L271.9,665.3L272.5,664.0L273.2,662.6L273.8,661.2L274.4,659.8L275.0,658.4L275.7,657.0L276.3,655.7L276.9,654.3L277.6,652.9L278.2,651.5L278.8,650.2L279.5,648.8L280.1,647.4L280.7,646.0L281.4,644.7L282.0,643.3L282.6,641.9L283.2,640.5L283.9,639.0L284.5,637.6L285.1,636.1L285.7,634.7L286.3,633.3L286.9,631.8L287.5,630.4L288.2,628.9L288.8,627.5L289.4,626.1L290.1,624.6L290.7,623.2L291.4,621.8L292.0,620.3L292.7,618.9L293.3,617.5L294.0,616.0L294.7,614.6L295.4,613.2L296.1,611.8L296.8,610.3L297.5,608.9L298.2,607.5L298.9,606.1L299.6,604.7L300.3,603.4L301.0,602.0L301.7,600.7L302.4,599.3L303.1,598.0L303.8,596.6L304.6,595.3L305.4,594.0L306.2,592.7L307.0,591.4L307.9,590.0L308.9,588.7L309.9,587.3L310.9,586.0L312.0,584.7L313.0,583.4L314.1,582.1L315.2,580.8L316.3,579.5L317.3,578.2L318.4,577.0L319.5,575.7L320.6,574.5L321.8,573.4L323.1,572.4L324.4,571.5L325.7,570.7L327.1,569.9L328.5,569.3L329.9,568.7L331.4,568.2L333.0,567.8L334.7,567.6L336.4,567.4L338.0,567.4L339.7,567.4L341.4,567.5L343.1,567.8L344.7,568.2L346.4,568.6L348.0,569.1L349.4,569.6L350.8,570.3L352.2,570.9L353.6,571.7L355.0,572.4L356.3,573.2L357.7,574.0L359.0,574.9L360.4,575.8L361.7,576.7L363.0,577.7L364.3,578.6L365.6,579.6L366.9,580.6L368.1,581.5L369.4,582.5L370.6,583.5L371.8,584.5L373.0,585.6L374.2,586.8L375.3,588.0L376.4,589.3L377.5,590.5L378.6,591.8L379.7,593.0L380.9,594.2L382.0,595.5L383.1,596.7L384.2,598.0L385.2,599.4L386.2,600.7L387.1,602.2L388.0,603.6L388.8,605.1L389.5,606.6L390.2,608.1L390.8,609.7L391.3,611.2L391.8,612.8L392.3,614.4L392.7,615.8L393.1,617.3L393.5,618.8L393.8,620.3L394.1,621.7L394.4,623.2L394.7,624.7L395.0,626.3L395.3,627.9L395.5,629.4L395.8,631.0L396.0,632.6L396.3,634.2L396.5,635.8L396.7,637.4L397.0,639.0L397.2,640.7L397.5,642.3L397.7,643.9L397.9,645.5L398.2,647.2L398.4,648.8L398.6,650.3L398.8,651.9L399.1,653.4L399.3,654.9L399.5,656.4L399.7,658.0L400.0,659.5L400.2,661.0L400.4,662.5L400.7,664.1L400.9,665.6L401.2,667.1L401.5,668.6L401.7,670.2L402.0,671.7L402.3,673.2L402.5,674.7L402.8,676.2L403.1,677.8L403.4,679.3L403.7,680.8L404.1,682.3L404.4,683.8L404.7,685.3L405.1,686.8L405.4,688.3L405.7,689.7L406.1,691.2L406.4,692.7L406.8,694.2L407.2,695.6L407.6,697.1L408.0,698.6L408.5,700.0L409.0,701.5L409.5,703.1L410.1,704.6L410.7,706.1L411.3,707.6L411.9,709.1L412.5,710.6L413.1,712.1L413.8,713.5L414.5,715.0L415.2,716.4L415.8,717.8L416.5,719.2L417.1,720.6L417.8,722.0L418.5,723.4L419.2,724.8L420.0,726.2L420.8,727.5L421.6,728.8L422.5,730.0L423.5,731.2L424.5,732.3L425.6,733.4L426.7,734.4L427.9,735.4L429.1,736.4L430.3,737.3L431.6,738.2L433.0,739.0L434.3,739.8L435.6,740.5L437.0,741.2L438.5,741.8L440.0,742.4L441.5,743.0L443.1,743.4L444.7,743.8L446.3,744.2L448.0,744.5L449.6,744.7L451.2,744.9L452.9,745.1L454.5,745.2L456.1,745.2L457.6,745.2L459.2,745.1L460.7,745.0L462.3,744.9L463.9,744.7L465.4,744.5L467.0,744.4L468.6,744.3L470.1,744.1L471.7,744.0L473.3,743.8L474.8,743.6L476.4,743.4L477.9,743.3L479.5,743.1L481.1,742.9L482.6,742.7L484.2,742.5L485.7,742.4L487.3,742.2L488.9,742.0L490.4,741.9L492.0,741.8L493.6,741.7L495.1,741.6L496.7,741.5L498.2,741.5L499.8,741.4L501.4,741.3L502.9,741.3L504.5,741.2L506.1,741.2L507.6,741.2L509.2,741.1L510.7,741.1L512.3,741.1L513.9,741.1L515.4,741.0L517.0,741.0L518.5,741.0L520.1,741.0L521.6,740.9L523.1,740.9L524.6,740.9L526.2,740.9L527.7,740.9L529.2,740.9L530.8,740.9L532.3,740.9L533.6,742.1L535.0,743.2L536.2,744.5L537.1,745.8L537.8,747.2L538.5,748.7L539.2,750.1L540.0,751.5L541.2,753.1L542.4,754.6L543.6,756.2L545.1,755.0L546.7,753.7L548.3,752.6L549.7,751.8L551.2,751.1L552.8,750.5L554.4,750.0L556.0,749.6L557.6,749.2L559.2,748.8L560.8,748.5L562.4,748.3L564.1,748.1L565.7,747.9L567.4,747.8L569.0,747.6L570.6,747.4L572.2,747.2L573.8,747.1L575.5,746.9L577.1,746.8L578.7,746.6L580.4,746.4L582.0,746.3L583.7,746.2L585.3,746.0L587.0,745.9L588.5,745.8L590.0,745.7L591.5,745.6L593.0,745.5L594.5,745.3L596.0,745.2L597.5,745.1L599.0,745.1L600.5,745.0L602.0,744.9L603.5,744.8L605.0,744.7L606.5,744.6L608.0,744.5L609.5,744.4L611.1,744.3L612.6,744.2L614.2,744.1L615.7,744.1L617.3,744.0L618.8,743.9L620.4,743.8L621.9,743.7L623.5,743.7L625.0,743.6L626.5,743.5L628.1,743.5L629.6,743.4L631.2,743.4L632.7,743.4L634.3,743.3L635.8,743.3L637.4,743.2L638.9,743.2" stroke="#0000ff"/>
<path d="M93.3,770.5L93.3,769.0L93.3,767.5L93.3,766.0L93.3,764.5L93.3,763.0L93.3,761.5L93.3,760.0L93.3,758.5L93.3,757.0L93.3,755.5L93.3,754.0L93.3,752.5L93.3,751.0L93.3,749.5L93.3,748.0L93.3,746.5L93.3,745.0L93.3,743.5L93.3,741.9L93.3,740.4L93.4,738.8L93.4,737.3L93.4,735.7L93.4,734.2L93.4,732.6L93.5,731.1L93.5,729.5L93.5,728.0L93.7,727.0L94.0,726.9L94.2,726.0L94.4,725.8L94.7,725.2L95.0,723.8L95.3,723.4L95.6,724.2L96.0,723.0L96.4,722.7L96.8,723.3L97.2,722.3L97.6,722.4L98.0,721.8L98.3,721.7L98.7,721.1L99.1,721.4L99.4,721.4L99.8,720.9L100.2,721.0L100.6,720.8L101.0,720.1L101.3,720.6L101.7,720.3L102.1,720.0L102.5,719.6L102.8,720.2L103.2,719.8L103.5,719.9L103.8,719.9L104.2,719.7L104.5,719.8L104.9,719.3L105.2,719.5L105.5,719.1L105.9,719.5L106.2,719.3L106.6,718.7L106.9,718.6L107.3,718.6L107.6,719.2L108.0,718.7L108.3,718.8L108.7,718.5L109.0,718.6L109.4,718.5L109.7,718.4L110.1,718.5L110.4,718.5L110.8,718.7L111.1,718.5L111.5,718.6L111.8,718.5L112.2,718.6L112.5,718.3L112.9,717.9L113.2,718.4L113.6,718.4L114.0,718.3L114.3,718.0L114.7,718.1L115.0,717.7L115.3,718.1L115.6,717.9L115.9,717.6L116.2,717.5L116.5,718.0L116.8,718.0L117.1,717.4L117.4,717.8L117.7,717.5L118.0,717.3L118.3,717.4L118.6,717.7L118.9,717.7L119.2,717.1L119.5,717.5L119.8,717.1L120.1,717.5L120.4,717.2L120.7,717.6L121.0,717.6L121.3,717.3L121.6,717.6L121.9,717.1L122.3,716.9L122.6,717.3L122.9,716.9L123.2,717.0L123.5,717.1L123.8,717.2L124.1,716.9L124.4,716.8L124.7,717.3L125.0,716.9L125.3,717.3L125.6,717.3L125.9,716.9L126.2,717.0L126.5,717.0L126.8,717.1L127.1,717.0L127.4,717.0L127.7,717.0L128.0,717.2L128.3,716.9L128.6,716.8L128.9,717.0L129.2,716.7L129.5,716.7L129.8,717.1L130.1,716.8L130.4,716.8L130.8,716.5L131.1,716.7L131.4,716.8L131.7,716.5L132.0,716.8L132.3,716.8L132.6,716.4L132.9,716.8L133.2,716.7L133.5,716.8L133.8,716.6L134.1,716.8L134.4,716.8L134.7,716.3L135.0,716.3L135.3,716.7L135.6,716.8L135.9,716.4L136.2,716.5L136.5,716.6L136.8,716.4L137.1,716.4L137.4,716.4L137.7,716.4L138.0,716.5L138.3,716.3L138.6,716.4L138.9,716.6L139.2,716.1L139.5,716.4L139.8,716.5L140.1,716.3L140.4,716.2L140.7,716.5L141.0,716.2L141.3,716.1L141.6,716.3L141.9,716.4L142.2,716.0L142.5,716.2L142.8,716.2L143.1,716.5L143.4,716.2L143.7,716.4L144.0,716.0L144.3,716.1L144.6,716.3L144.9,716.4L145.2,716.2L145.5,716.0L145.8,715.9L146.1,716.2L146.4,716.0L146.7,716.3L147.0,716.3L147.3,715.9L147.6,716.0L147.9,716.3L148.2,716.2L148.5,716.3L148.8,716.0L149.1,715.9L149.4,716.0L149.7,716.2L150.0,715.9L150.3,716.0L150.6,716.0L150.9,716.0L151.2,716.0L151.5,716.3L151.8,715.8L152.1,715.7L152.4,716.3L152.7,716.2L153.0,716.3L153.3,716.0L153.6,716.3L153.9,716.2L154.2,715.8L154.5,716.1L154.8,716.2L155.1,716.1L155.4,716.0L155.7,715.8L156.0,715.8L156.3,715.8L156.6,715.7L156.9,716.0L157.2,715.8L157.5,716.1L157.8,715.6L158.1,716.2L158.4,716.0L158.7,716.2L159.0,716.1L159.3,716.1L159.6,715.9L159.9,715.6L160.2,716.0L160.5,715.7L160.8,715.8L161.1,716.0L161.4,715.9L161.7,715.8L162.0,716.1L162.3,715.9L162.6,715.8L162.9,715.7L163.2,716.1L163.5,715.8L163.8,716.0L164.1,715.7L164.4,715.6L164.7,715.8L165.0,716.0L165.3,715.6L165.6,716.0L165.9,716.1L166.2,716.0L166.5,716.0L166.8,715.5L167.1,715.9L167.4,716.0L167.7,715.5L168.0,715.6L168.3,715.6L168.6,715.8L168.9,715.7L169.2,715.8L169.5,715.9L169.8,715.5L170.1,715.5L170.4,715.5L170.7,715.5L171.0,715.5L171.3,716.0L171.6,715.9L171.9,715.5L172.2,715.7L172.5,715.6L172.8,715.6L173.1,715.6L173.4,715.8L173.7,715.8L174.0,715.6L174.3,715.5L174.6,715.6L174.9,715.5L175.2,715.7L175.5,715.8L175.8,715.6L176.1,715.4L176.4,715.5L176.7,715.6L177.0,715.7L177.3,715.8L177.6,715.6L177.9,715.8L178.2,715.7L178.5,715.6L178.8,715.5L179.1,715.6L179.4,715.7L179.7,715.6L180.0,715.7L180.3,715.6L180.6,715.4L180.9,715.6L181.2,715.7L181.5,715.3L181.8,715.5L182.1,715.5L182.4,715.8L182.7,715.8L183.0,715.5L183.3,715.8L183.6,715.7L183.9,715.4L184.2,715.5L184.5,715.3L184.8,715.7L185.1,715.6L185.4,715.7L185.7,715.7L186.0,715.6L186.3,715.6L186.6,715.5L186.9,715.2L187.2,715.5L187.5,715.2L187.8,715.2L188.1,715.6L188.4,715.2L188.7,715.2L189.0,715.2L189.3,715.7L189.6,715.2L189.9,715.1L190.2,715.6L190.5,715.2L190.8,715.6L191.1,715.5L191.4,715.6L191.7,715.7L192.0,715.4L192.3,715.6L192.6,715.1L192.9,715.5L193.2,715.4L193.5,715.5L193.8,715.1L194.1,715.5L194.4,715.6L194.7,715.1L195.0,715.2L195.3,715.4L195.6,715.5L195.9,715.2L196.2,715.1L196.5,715.1L196.8,715.4L197.1,715.4L197.4,715.2L197.7,715.2L198.0,715.2L198.3,715.2L198.6,715.2L198.9,715.0L199.2,715.3L199.5,715.5L199.8,715.2L200.1,715.4L200.4,715.0L200.7,715.3L201.0,715.4L201.3,715.3L201.6,715.2L201.9,715.2L202.2,715.3L202.5,715.4L202.8,715.0L203.2,714.9L203.5,715.3L203.8,715.4L204.1,715.2L204.4,715.1L204.7,715.3L205.0,715.0L205.3,715.0L205.6,715.0L205.9,715.2L206.2,715.0L206.5,715.0L206.8,715.2L207.1,715.4L207.4,715.0L207.7,715.2L208.0,715.1L208.3,715.3L208.6,715.1L208.9,715.0L209.2,714.9L209.5,714.8L209.8,715.1L210.1,715.0L210.4,714.9L210.7,715.0L211.0,715.0L211.3,715.2L211.6,714.8L211.9,715.3L212.2,715.0L212.5,715.1L212.8,715.0L213.1,715.2L213.4,715.2L213.7,715.0L214.0,715.0L214.3,715.1L214.6,715.2L214.9,714.9L215.2,715.1L215.5,715.3L215.8,715.0L216.1,714.8L216.4,714.8L216.7,715.1L217.0,715.1L217.3,715.2L217.6,715.2L217.9,714.8L218.2,714.7L218.5,714.8L218.8,714.7L219.1,715.0L219.4,715.1L219.7,715.2L220.0,714.8L220.3,715.1L220.6,714.8L220.9,714.8L221.2,715.0L221.5,714.6L221.8,714.6L222.1,715.1L222.4,714.7L222.7,714.8L223.0,714.9L223.3,715.0L223.6,714.5L223.9,714.7L224.2,714.8L224.5,714.8L224.8,714.6L225.1,714.9L225.4,715.1L225.7,714.7L226.0,714.8L226.3,714.6L226.6,714.7L226.9,714.9L227.2,714.5L227.5,715.0L227.8,715.0L228.1,714.5L228.4,715.0L228.7,714.7L229.0,714.9L229.3,714.9L229.6,714.6L229.9,714.8L230.2,714.8L230.5,714.9L230.8,714.6L231.1,714.9L231.4,715.0L231.7,714.8L232.0,714.7L232.3,714.5L232.6,714.7L232.9,714.6L233.2,714.8L233.5,714.8L233.8,714.7L234.1,714.5L234.4,714.7L234.7,714.7L235.0,714.4L235.3,714.9L235.6,714.7L235.9,714.4L236.2,714.9L236.5,714.4L236.8,714.5L237.2,714.7L237.5,714.7L237.8,714.6L238.1,714.7L238.4,714.6L238.7,714.5L239.0,714.4L239.3,714.3L239.6,714.7L239.9,714.7L240.2,714.6L240.5,714.7L240.8,714.4L241.1,714.4L241.4,714.5L241.7,714.7L242.0,714.2L242.3,714.5L242.6,714.3L242.9,714.7L243.2,714.4L243.5,714.4L243.8,714.4L244.1,714.5L244.4,714.6L244.7,714.4L245.0,714.7L245.3,714.2L245.6,714.3L245.9,714.2L246.2,714.2L246.5,714.6L246.8,714.6L247.1,714.2L247.4,714.2L247.7,714.4L248.0,714.5L249.8,714.0L251.5,713.5L252.6,712.6L253.5,711.3L254.2,709.9L255.0,708.5L255.8,707.2L256.7,705.9L257.5,704.6L258.2,703.3L259.0,701.9L259.8,700.6L260.6,699.3L261.3,698.0L262.1,696.6L262.8,695.3L263.6,694.0L264.3,692.6L265.0,691.3L265.8,690.0L266.5,688.6L267.2,687.3L267.9,685.9L268.6,684.5L269.3,683.1L270.0,681.7L270.7,680.2L271.4,678.8L272.1,677.4L272.8,676.0L273.4,674.5L274.1,673.1L274.8,671.7L275.4,670.2L276.1,668.8L276.7,667.4L277.4,666.1L278.0,664.7L278.6,663.3L279.3,661.9L279.9,660.6L280.5,659.2L281.1,657.8L281.7,656.4L282.4,655.0L283.0,653.7L283.6,652.3L284.2,650.9L284.8,649.5L285.5,648.0L286.1,646.6L286.7,645.1L287.4,643.7L288.0,642.2L288.6,640.8L289.2,639.3L289.9,637.9L290.5,636.4L291.1,635.0L291.8,633.5L292.4,632.1L293.0,630.7L293.6,629.3L294.2,628.0L294.8,626.6L295.4,625.2L296.1,623.8L296.7,622.4L297.3,621.0L297.9,619.7L298.5,618.3L299.2,616.9L299.8,615.6L300.5,614.2L301.2,612.8L301.9,611.3L302.6,609.9L303.3,608.5L304.0,607.0L304.8,605.6L305.5,604.2L306.3,602.8L307.1,601.4L307.9,600.1L308.7,598.7L309.5,597.4L310.3,596.1L311.2,594.7L312.0,593.4L312.9,592.1L313.8,590.8L314.8,589.6L315.7,588.4L316.8,587.3L317.9,586.2L319.1,585.2L320.2,584.2L321.5,583.2L322.7,582.3L324.0,581.4L325.4,580.5L326.9,579.5L328.3,578.6L329.8,577.9L331.4,577.3L333.0,576.9L334.7,576.6L336.3,576.5L338.0,576.4L339.7,576.5L341.4,576.7L343.1,577.0L344.8,577.4L346.4,577.9L348.0,578.5L349.5,579.1L350.9,579.9L352.3,580.7L353.6,581.6L355.0,582.5L356.3,583.4L357.6,584.3L358.8,585.3L360.0,586.3L361.2,587.3L362.5,588.2L363.8,589.1L365.0,590.1L366.2,591.1L367.4,592.1L368.6,593.3L369.8,594.6L370.9,595.9L372.0,597.2L373.0,598.6L373.9,599.9L374.7,601.2L375.5,602.5L376.3,603.9L377.0,605.2L377.8,606.6L378.6,607.9L379.5,609.4L380.4,610.9L381.3,612.4L382.3,613.9L383.3,615.3L384.4,616.7L385.6,618.1L386.8,619.5L387.9,620.9L388.9,622.5L389.8,624.1L390.7,625.7L391.4,627.4L392.0,629.0L392.4,630.7L392.7,632.4L393.1,634.1L393.4,635.8L393.7,637.4L394.0,639.0L394.2,640.6L394.5,642.2L394.7,643.8L394.9,645.4L395.2,647.0L395.4,648.5L395.7,650.0L395.9,651.5L396.2,653.0L396.4,654.5L396.7,656.0L396.9,657.5L397.2,659.0L397.5,660.6L397.8,662.1L398.0,663.7L398.3,665.3L398.6,666.8L398.9,668.4L399.2,669.9L399.5,671.5L399.8,673.1L400.1,674.6L400.4,676.2L400.8,677.7L401.1,679.3L401.4,680.8L401.8,682.4L402.1,683.9L402.4,685.5L402.8,687.0L403.2,688.6L403.6,690.3L404.0,691.9L404.3,693.5L404.8,695.1L405.2,696.8L405.6,698.4L406.0,700.0L406.4,701.5L406.8,703.0L407.1,704.6L407.5,706.1L407.9,707.6L408.3,709.1L408.7,710.6L409.2,712.1L409.6,713.6L410.2,715.1L410.8,716.5L411.4,717.9L412.0,719.4L412.7,720.8L413.4,722.3L414.2,723.7L415.0,725.1L415.8,726.4L416.6,727.8L417.6,729.1L418.5,730.3L419.5,731.5L420.6,732.7L421.7,733.8L422.9,734.9L424.1,736.0L425.3,737.1L426.6,738.0L427.9,739.0L429.3,739.9L430.6,740.7L432.0,741.5L433.4,742.2L434.8,742.9L436.3,743.5L437.8,744.0L439.3,744.5L440.8,745.0L442.4,745.4L443.9,745.7L445.5,746.0L447.0,746.3L448.6,746.5L450.3,746.7L452.0,746.8L453.7,746.8L455.3,746.8L457.0,746.8L458.5,746.8L460.0,746.7L461.5,746.5L463.0,746.3L464.5,746.1L466.0,745.8L467.5,745.6L469.0,745.3L470.5,745.0L472.0,744.7L473.5,744.5L475.0,744.2L476.5,744.0L478.0,743.8L479.5,743.6L481.0,743.4L482.5,743.3L484.0,743.1L485.5,743.0L487.0,742.8L488.5,742.7L490.1,742.5L491.6,742.4L493.1,742.2L494.6,742.1L496.1,742.0L497.7,741.9L499.4,741.7L501.0,741.6L502.6,741.5L504.2,741.3L505.9,741.2L507.5,741.1L509.1,741.1L510.8,741.1L512.4,741.1L514.1,741.2L515.9,741.3L517.6,741.5L519.3,741.6L520.6,743.0L521.8,744.5L522.5,745.9L523.0,747.4L523.4,749.1L523.7,750.7L524.1,752.3L524.7,753.8L525.7,755.5L526.7,757.1L527.8,758.7L529.4,758.1L531.0,757.5L532.5,757.0L534.1,756.4L535.7,755.8L537.1,755.2L538.5,754.7L539.9,754.1L541.3,753.5L542.7,752.9L544.1,752.4L545.5,751.9L547.0,751.4L548.5,751.0L550.0,750.7L551.5,750.3L553.1,750.0L554.6,749.7L556.1,749.4L557.7,749.2L559.2,748.9L560.7,748.7L562.2,748.5L563.7,748.3L565.2,748.1L566.7,748.0L568.2,747.8L569.7,747.7L571.2,747.6L572.7,747.5L574.2,747.4L575.7,747.3L577.2,747.2L578.7,747.1L580.2,747.0L581.8,746.9L583.3,746.8L584.9,746.7L586.4,746.7L587.9,746.6L589.5,746.5L591.0,746.5L592.6,746.4L594.1,746.4L595.7,746.4L597.2,746.3L598.7,746.3L600.3,746.3L601.8,746.2L603.4,746.2L604.9,746.2L606.5,746.1L608.0,746.1L609.5,746.1L611.1,746.0L612.6,746.0L614.2,746.0L615.7,746.0L617.3,746.0L618.8,746.0L620.4,746.0L621.9,746.0L623.4,745.9L625.0,745.9L626.5,745.9L628.1,745.9L629.6,745.9L631.2,745.9L632.7,745.9L634.3,745.9L635.8,745.9L637.4,745.9L638.9,745.9" stroke="#000"/>
<path d="M93.3,686.5L93.5,686.3L93.6,686.3L93.8,686.1L93.9,685.9L94.1,685.9L94.2,686.0L94.4,685.8L94.5,685.6L94.7,685.3L94.8,685.3L95.0,685.1L95.2,684.9L95.3,684.8L95.5,684.7L95.7,684.9L95.8,684.7L96.0,684.6L96.2,684.5L96.4,684.2L96.6,684.1L96.7,684.2L96.9,684.1L97.1,684.1L97.3,684.0L97.5,683.6L97.7,683.7L97.9,683.7L98.1,683.6L98.2,683.4L98.4,683.4L98.6,683.2L98.8,683.4L99.0,683.3L99.2,683.2L99.4,683.0L99.6,683.2L99.8,683.0L99.9,683.0L100.1,683.0L100.3,682.8L100.5,682.7L100.7,682.7L100.9,682.6L101.1,682.5L101.3,682.5L101.5,682.7L101.7,682.3L101.9,682.3L102.1,682.5L102.3,682.3L102.5,682.4L102.7,682.4L102.9,682.3L103.1,682.5L103.3,682.2L103.5,682.2L103.7,682.1L103.9,682.3L104.1,682.1L104.3,682.2L104.5,682.3L104.7,682.1L104.9,682.2L105.1,682.3L105.3,682.0L105.5,682.0L105.7,682.0L105.9,682.2L106.1,682.2L106.3,682.0L106.6,682.0L106.8,682.0L107.0,682.1L107.2,681.9L107.4,682.1L107.6,682.2L107.8,682.2L108.0,682.1L108.2,682.2L108.4,681.8L108.6,681.9L108.8,682.2L109.0,682.1L109.2,681.9L109.4,682.1L109.6,682.0L109.8,682.0L110.0,681.8L110.2,681.8L110.4,681.8L110.6,681.7L110.8,681.8L111.0,682.0L111.2,681.7L111.4,681.6L111.6,681.6L111.8,681.6L112.0,681.8L112.2,681.7L112.4,681.6L112.6,681.5L112.8,681.9L113.0,681.6L113.2,681.5L113.4,681.4L113.6,681.4L113.8,681.5L114.0,681.7L114.2,681.4L114.4,681.4L114.6,681.5L114.8,681.4L115.0,681.7L115.2,681.4L115.4,681.5L115.6,681.6L115.8,681.4L116.0,681.7L116.2,681.4L116.4,681.3L116.6,681.4L116.9,681.2L117.1,681.4L117.3,681.3L117.5,681.5L117.7,681.5L117.9,681.4L118.1,681.2L118.3,681.2L118.5,681.2L118.7,681.2L118.9,681.2L119.1,681.4L119.3,681.1L119.5,681.1L119.7,681.4L119.9,681.3L120.1,681.4L120.3,681.2L120.5,681.4L120.7,681.3L120.9,681.3L121.1,681.3L121.3,681.2L121.5,681.0L121.7,681.0L121.9,681.3L122.1,681.3L122.3,681.3L122.5,681.0L122.7,681.2L122.9,681.2L123.1,681.1L123.3,681.2L123.5,681.1L123.7,681.1L123.9,681.1L124.1,680.9L124.3,681.2L124.5,681.2L124.7,680.8L124.9,681.2L125.1,681.1L125.3,681.0L125.5,680.8L125.7,681.1L125.9,680.8L126.1,681.1L126.3,681.0L126.5,680.7L126.7,680.7L126.9,680.9L127.1,680.9L127.3,680.9L127.5,681.0L127.7,680.7L127.9,680.6L128.1,681.0L128.3,680.6L128.5,680.9L128.7,680.6L129.0,680.9L129.2,680.9L129.4,680.9L129.6,680.8L129.8,680.9L130.0,680.6L130.2,680.8L130.4,680.6L130.6,680.8L130.8,680.8L131.0,680.7L131.2,680.7L131.4,680.5L131.6,680.5L131.8,680.7L132.0,680.6L132.2,680.8L132.4,680.7L132.6,680.5L132.8,680.5L133.0,680.7L133.2,680.6L133.4,680.4L133.6,680.7L133.8,680.7L134.0,680.4L134.2,680.6L134.4,680.5L134.6,680.6L134.8,680.4L135.0,680.4L135.2,680.5L135.4,680.7L135.6,680.3L135.8,680.3L136.0,680.5L136.2,680.6L136.4,680.5L136.6,680.4L136.8,680.6L137.0,680.5L137.2,680.2L137.4,680.6L137.6,680.3L137.8,680.3L138.0,680.5L138.2,680.4L138.4,680.5L138.6,680.2L138.8,680.5L139.0,680.2L139.2,680.2L139.4,680.3L139.6,680.3L139.8,680.4L140.0,680.5L140.2,680.4L140.4,680.1L140.6,680.2L140.8,680.3L141.0,680.3L141.2,680.4L141.4,680.3L141.6,680.1L141.8,680.2L142.0,680.4L142.2,680.2L142.4,680.4L142.6,680.5L142.8,680.3L143.0,680.3L143.2,680.3L143.4,680.2L143.6,680.4L143.8,680.2L144.0,680.4L144.2,680.2L144.4,680.4L144.6,680.3L144.8,680.3L145.0,680.2L145.2,680.1L145.4,680.3L145.6,680.2L145.8,680.3L146.0,680.1L146.2,680.0L146.4,680.1L146.6,680.3L146.8,680.1L147.0,680.3L147.2,680.1L147.4,680.2L147.6,680.1L147.8,680.2L148.0,680.0L148.2,680.1L148.4,680.3L148.6,680.0L148.8,680.2L149.0,680.1L149.2,680.1L149.4,679.9L149.6,679.9L149.8,680.3L150.0,680.3L150.2,680.2L150.4,680.2L150.6,680.3L150.8,680.0L151.0,680.1L151.2,680.1L151.4,680.1L151.6,680.3L151.8,680.2L152.0,680.3L152.2,679.9L152.4,680.1L152.6,680.1L152.8,680.2L153.0,680.1L153.2,680.2L153.4,680.0L153.6,680.2L153.8,680.0L154.0,680.1L154.2,680.2L154.4,680.1L154.6,679.9L154.8,679.9L155.0,679.9L155.2,680.0L155.4,680.2L155.6,680.1L155.8,679.9L156.0,679.9L156.2,680.1L156.4,679.9L156.6,679.9L156.8,679.7L157.0,679.8L157.2,679.9L157.4,680.0L157.6,680.0L157.8,679.8L158.0,680.1L158.2,679.9L158.4,679.7L158.6,679.7L158.8,680.0L159.0,680.0L159.2,680.0L159.4,679.9L159.6,679.7L159.8,679.6L160.0,679.7L160.2,679.7L160.4,680.0L160.6,679.9L160.8,679.9L161.0,679.6L161.2,679.6L161.4,679.6L161.6,679.9L161.8,679.6L162.0,679.8L162.2,679.8L162.4,679.7L162.6,679.8L162.9,679.6L163.1,679.6L163.3,679.5L163.5,679.5L163.7,679.4L163.9,679.5L164.1,679.4L164.3,679.4L164.5,679.8L164.7,679.5L164.9,679.7L165.1,679.6L165.3,679.6L165.5,679.6L167.2,679.1L168.3,678.6" stroke="#c0c0c0" stroke-dasharray="4.8 8.2" stroke-dashoffset="5"/>
<path d="M93.3,686.7L95.3,685.0L96.6,684.2" stroke="#c0c0c0"/>
<path d="M178.6,332.0L178.5,333.5L178.5,335.0L178.5,336.5L178.5,338.0L178.5,339.5L178.5,341.0L178.5,342.5L178.5,344.0L178.5,345.5L178.4,347.0L178.4,348.5L178.4,350.0L178.4,351.5L178.4,353.0L178.4,354.5L178.4,356.0L178.4,357.5L178.4,359.0L178.4,360.5L178.3,362.0L178.3,363.5L178.3,365.0L178.3,366.5L178.3,368.0L178.3,369.5L178.3,371.0L178.3,372.5L178.3,374.0L178.3,375.5L178.2,377.0L178.2,378.5L178.2,380.0L178.2,381.5L178.2,383.0L178.2,384.5L178.2,386.0L178.2,387.5L178.2,389.0L178.2,390.5L178.1,392.0L178.1,393.5L178.1,395.0L178.1,396.5L178.1,398.0L178.1,399.5L178.1,401.0L178.1,402.5L178.1,404.0L178.0,405.5L178.0,407.0L178.0,408.5L178.0,410.0L178.0,411.5L178.0,413.0L178.0,414.5L178.0,416.0L177.9,417.5L177.9,419.0L177.9,420.5L177.9,422.0L177.9,423.5L177.9,425.0L177.9,426.5L177.8,428.0L177.8,429.5L177.8,431.0L177.8,432.5L177.8,434.0L177.8,435.5L177.8,437.0L177.7,438.5L177.7,440.0L177.7,441.5L177.7,443.0L177.7,444.5L177.6,446.0L177.6,447.6L177.6,449.1L177.6,450.6L177.6,452.1L177.5,453.6L177.5,455.1L177.5,456.6L177.5,458.1L177.5,459.6L177.4,461.1L177.4,462.6L177.4,464.1L177.4,465.6L177.3,467.2L177.3,468.7L177.3,470.2L177.3,471.7L177.2,473.2L177.2,474.7L177.2,476.2L177.2,477.7L177.1,479.2L177.1,480.7L177.1,482.2L177.1,483.7L177.1,485.2L177.0,486.8L177.0,488.3L177.0,489.8L177.0,491.3L176.9,492.8L176.9,494.3L176.9,495.8L176.9,497.3L176.8,498.8L176.8,500.3L176.8,501.8L176.8,503.3L176.7,504.8L176.7,506.4L176.7,507.9L176.7,509.4L176.6,510.9L176.6,512.4L176.6,513.9L176.6,515.4L176.5,516.9L176.5,518.4L176.5,519.9L176.5,521.4L176.5,522.9L176.4,524.4L176.4,526.0L176.4,527.5L176.4,529.0L176.4,530.5L176.3,532.0L176.3,533.5L176.3,535.0L176.3,536.5L176.3,538.0L176.3,539.5L176.2,541.0L176.2,542.5L176.2,544.0L176.2,545.5L176.2,547.0L176.2,548.5L176.2,550.0L176.2,551.5L176.2,553.0L176.2,554.5L176.2,556.0L176.2,557.5L176.2,559.0L176.2,560.5L176.2,562.0L176.2,563.5L176.2,565.0L176.2,566.5L176.2,568.0L176.2,569.5L176.2,571.0L176.1,572.5L176.1,574.0L176.1,575.5L176.1,577.0L176.1,578.5L176.1,580.0L176.1,581.5L176.1,583.0L176.1,584.5L176.1,586.0L176.0,587.5L176.0,589.0L176.0,590.5L176.0,592.0L176.0,593.5L175.9,595.0L175.9,596.5L175.9,598.0L175.8,599.5L175.8,601.0L175.7,602.5L175.7,604.0L175.7,605.5L175.6,607.0L175.6,608.5L175.5,610.0L175.4,611.5L175.4,613.0L175.3,614.5L175.3,616.0L175.2,617.5L175.1,619.0L175.1,620.5L175.0,622.0L174.9,623.5L174.9,625.0L174.8,626.5L174.7,628.0L174.6,629.5L174.6,631.0L174.5,632.5L174.4,634.0L174.3,635.5L174.2,637.0L174.1,638.5L174.0,640.0L173.9,641.5L173.8,643.1L173.7,644.6L173.6,646.2L173.5,647.7L173.4,649.2L173.3,650.8L173.1,652.3L173.0,653.9L172.9,655.4L172.7,656.9L172.6,658.5L172.4,660.0L172.2,661.5L172.0,663.0L171.9,664.5L171.6,666.0L171.4,667.5L171.2,669.0L171.0,670.8L170.8,672.6L170.5,674.3L169.9,676.0L169.1,677.3L168.3,678.6" stroke="#c0c0c0" stroke-dasharray="4.8 8.2" stroke-dashoffset="11.7"/>
<path d="M407.3,332.0L407.4,333.5L407.4,335.0L407.5,336.6L407.6,338.1L407.6,339.6L407.7,341.1L407.8,342.6L407.9,344.2L407.9,345.7L408.0,347.2L408.1,348.7L408.1,350.2L408.2,351.8L408.3,353.3L408.3,354.8L408.4,356.3L408.5,357.8L408.5,359.4L408.6,360.9L408.7,362.4L408.7,363.9L408.8,365.4L408.9,367.0L408.9,368.5L409.0,370.0L409.1,371.6L409.1,373.1L409.2,374.7L409.2,376.3L409.3,377.8L409.4,379.4L409.4,380.9L409.5,382.5L409.5,384.1L409.6,385.6L409.7,387.2L409.7,388.8L409.8,390.3L409.9,391.9L409.9,393.4L410.0,395.0L410.1,396.6L410.2,398.1L410.3,399.7L410.3,401.3L410.4,402.8L410.5,404.4L410.6,405.9L410.7,407.5L410.8,409.1L410.9,410.6L411.0,412.2L411.1,413.7L411.2,415.3L411.3,416.9L411.4,418.4L411.5,420.0L411.6,421.6L411.7,423.1L411.7,424.7L411.8,426.2L411.9,427.8L412.0,429.4L412.0,430.9L412.1,432.5L412.2,434.1L412.3,435.6L412.3,437.2L412.4,438.8L412.5,440.3L412.6,441.9L412.7,443.4L412.8,445.0L412.8,446.6L412.9,448.1L413.0,449.7L413.2,451.3L413.3,452.8L413.4,454.4L413.5,455.9L413.6,457.5L413.7,459.1L413.8,460.6L413.9,462.2L414.1,463.8L414.2,465.3L414.3,466.9L414.4,468.4L414.5,470.0L414.6,471.6L414.7,473.1L414.8,474.7L414.9,476.3L415.0,477.8L415.1,479.4L415.2,480.9L415.3,482.5L415.4,484.1L415.5,485.6L415.6,487.2L415.7,488.8L415.9,490.3L416.0,491.9L416.1,493.4L416.2,495.0L416.4,496.6L416.5,498.1L416.7,499.7L416.9,501.3L417.0,502.8L417.2,504.4L417.4,505.9L417.5,507.5L417.7,509.1L417.9,510.6L418.1,512.2L418.3,513.8L418.5,515.3L418.6,516.9L418.8,518.4L419.0,520.0L419.2,521.5L419.3,523.0L419.5,524.5L419.7,526.0L419.9,527.5L420.0,529.0L420.2,530.5L420.4,532.0L420.6,533.5L420.8,535.0L420.9,536.6L421.1,538.1L421.3,539.7L421.4,541.3L421.6,542.8L421.8,544.4L421.9,545.9L422.1,547.5L422.3,549.1L422.4,550.6L422.6,552.2L422.8,553.8L423.0,555.3L423.2,556.9L423.4,558.4L423.6,560.0L423.8,561.5L424.0,563.0L424.3,564.5L424.5,566.0L424.7,567.5L425.0,569.0L425.2,570.4L425.4,571.9L425.7,573.4L425.9,574.9L426.2,576.4L426.4,577.9L426.6,579.4L426.9,580.9L427.1,582.4L427.3,584.0L427.5,585.5L427.7,587.0L428.0,588.5L428.2,590.0L428.4,591.5L428.6,593.1L428.9,594.6L429.1,596.1L429.4,597.6L429.7,599.1L430.0,600.7L430.3,602.4L430.7,604.0L431.0,605.6L431.4,607.2L431.7,608.9L432.1,610.5L432.5,612.1L432.9,613.7L433.3,615.3L433.8,617.0L434.3,618.6L434.8,620.2L435.3,621.8L435.7,623.5L436.2,625.1L436.6,626.6L437.0,628.1L437.3,629.6L437.7,631.0L438.0,632.5L438.3,634.0L438.7,635.5L439.0,637.0L439.4,638.5L439.9,639.9L440.3,641.4L440.8,642.9L441.3,644.4L441.9,645.9L442.5,647.4L443.0,648.9L443.6,650.4L444.3,651.8L444.9,653.3L445.5,654.8L446.2,656.2L446.8,657.7L447.4,659.1L448.0,660.5L448.6,661.9L449.2,663.4L449.8,664.8L450.4,666.2L451.0,667.5L451.7,668.9L452.5,670.2L453.3,671.5L454.3,672.8L455.3,674.2L456.3,675.5L457.4,677.1L458.5,678.8L459.5,680.5L460.3,681.8L461.1,683.2L461.9,684.5L462.7,685.8L462.8,685.9L462.9,686.1L462.9,686.2L463.0,686.3L463.1,686.4L463.2,686.6L463.3,686.7L463.4,686.8L463.4,687.0L463.5,687.1L463.6,687.2L463.7,687.3L463.8,687.5L463.8,687.6L463.9,687.7L464.0,687.8L464.1,687.9L464.2,688.1L464.2,688.2L464.3,688.4L464.4,688.5L464.5,688.6L464.6,688.8L464.7,688.8L464.7,689.0L464.8,689.1L464.9,689.2L465.0,689.4L465.1,689.4L465.2,689.6L465.3,689.8L465.3,689.9L465.4,689.9L465.5,690.2L465.6,690.2L465.7,690.4L465.8,690.4L465.9,690.7L465.9,690.8L466.0,690.9L466.1,691.0L466.2,691.0L466.3,691.2L466.4,691.3L466.5,691.4L466.6,691.5L466.7,691.6L466.8,691.8L466.8,691.8L466.9,692.1L467.0,692.1L467.1,692.2L467.2,692.5L467.3,692.5L467.4,692.6L467.5,692.7L467.6,692.9L467.7,692.8L467.8,693.2L467.9,693.1L468.0,693.4L468.1,693.5L468.2,693.4L468.3,693.7L468.4,693.7L468.5,693.9L468.6,693.8L468.7,694.0L468.8,694.1L468.9,694.5L469.0,694.3L469.1,694.6L469.2,694.8L469.3,694.9L469.4,694.8L469.5,694.9L469.6,695.1L469.7,695.3L469.8,695.2L469.9,695.5L470.1,695.6L470.2,695.8L470.3,695.6L470.4,696.0L470.5,695.8L470.6,696.0L470.7,696.2L470.8,696.4L470.9,696.3L471.0,696.6L471.1,696.6L471.3,696.6L471.4,696.7L471.5,696.8L471.6,696.8L471.7,697.0L471.8,697.3L471.9,697.5L472.0,697.3L472.2,697.3L472.3,697.8L472.4,697.7L472.5,697.7L472.6,697.8L472.7,698.0L472.9,698.2L473.0,698.1L473.1,698.2L473.2,698.1L473.3,698.6L473.5,698.3L473.6,698.6L473.7,698.8L473.8,698.6L474.0,698.9L474.1,699.1L474.2,699.1L474.3,699.2L474.5,699.0L474.6,699.2L474.7,699.2L474.9,699.5L475.0,699.4L475.1,699.5L475.3,699.8L475.4,699.8L475.6,700.0L475.7,699.8L475.8,699.9L476.0,700.1L476.1,700.0L476.3,700.0L476.4,700.1L476.5,700.1L476.7,700.3L476.8,700.6L477.0,700.6L477.1,700.6L477.3,700.6L477.4,700.6L477.6,700.5L477.7,700.6L477.8,700.9L478.0,701.0L478.1,700.9L478.3,701.1L478.4,701.2L478.6,701.2L478.7,701.2L478.9,701.3L479.0,701.2L479.2,701.4L479.3,701.3L479.5,701.5L479.6,701.7L479.7,701.7L479.9,701.6L480.0,701.9L480.2,701.9L480.3,701.9L480.5,701.7L480.6,702.0L480.7,702.0L480.9,702.2L481.0,702.2L481.2,702.4L481.3,702.4L481.4,702.6L481.6,702.4L481.7,702.6L481.9,702.7L482.0,702.9L482.1,702.7L482.3,703.0L482.4,703.1L482.6,703.1L482.7,703.3L482.8,703.4L483.0,703.2L483.1,703.3L483.3,703.2L483.4,703.6L483.5,703.7L483.7,703.6L483.8,703.8L483.9,703.8L484.1,703.9L484.2,703.8L484.4,704.1L484.5,704.1L484.7,704.2L484.8,704.1L484.9,704.3L485.1,704.4L485.2,704.4L485.4,704.5L485.5,704.3L485.7,704.4L485.8,704.6L485.9,704.7L486.1,704.6L486.2,704.8L486.4,704.9L486.5,704.7L486.7,704.9L486.8,704.9L487.0,704.9L487.1,704.9L487.3,705.1L487.4,705.1L487.5,705.1L487.7,705.1L487.8,705.3L488.0,705.3L488.1,705.5L488.3,705.5L488.4,705.4L488.6,705.7L488.7,705.4L488.9,705.6L489.0,705.6L489.2,705.7L489.3,705.6L489.5,705.9L489.6,705.8L489.8,705.7L489.9,706.0L490.1,705.8L490.2,706.0L490.4,706.0L490.5,706.1L490.7,706.3L490.8,706.3L491.0,706.2L491.1,706.4L491.3,706.3L491.4,706.3L491.6,706.2L491.7,706.4L491.9,706.5L492.0,706.6L492.2,706.7L492.4,706.6L492.5,706.5L492.7,706.8L492.8,706.4L493.0,706.5L493.1,706.7L493.3,706.8L493.4,706.6L493.6,706.9L493.7,707.0L493.9,706.8L494.0,706.9L494.2,706.8L494.3,706.9L494.5,707.2L494.6,707.0L494.8,707.2L494.9,707.2L495.1,707.1L495.2,707.0L495.4,707.4L495.5,707.2L495.7,707.2L495.8,707.2L496.0,707.5L496.1,707.3L496.3,707.2L496.4,707.3L496.6,707.2L496.8,707.4L496.9,707.4L497.1,707.4L497.2,707.6L497.4,707.6L497.5,707.3L497.7,707.5L497.8,707.5L498.0,707.8L498.1,707.7L498.3,707.5L498.4,707.6L498.6,707.5L498.7,707.9L498.9,707.6L499.1,707.8L499.2,707.7L499.4,707.8L499.5,707.8L499.7,707.9L499.8,707.7L500.0,708.0L500.1,707.8L500.3,707.9L500.4,707.9L500.6,707.9L500.7,708.0L500.9,708.0L501.1,708.0L501.2,708.2L501.4,708.1L501.5,707.9L501.7,708.0L501.8,708.1L502.0,708.3L502.1,708.4L502.3,708.2L502.4,708.1L502.6,708.4L502.7,708.3L502.9,708.4L503.0,708.4L503.2,708.4L503.3,708.4L503.5,708.6L503.6,708.4L503.8,708.5L504.0,708.7L504.1,708.4L504.3,708.5L504.4,708.8L504.6,708.5L504.7,708.8L504.9,708.8L505.0,708.7L505.2,708.7L505.3,708.9L505.5,709.0L505.6,708.7L505.8,708.9L505.9,708.9L506.1,709.0L506.2,708.9L506.4,708.9L506.5,709.1L506.7,709.2L506.9,708.9L507.0,709.0L507.2,709.3L507.3,709.3L507.5,709.3L507.6,709.1L507.8,709.4L507.9,709.5L508.1,709.6L508.2,709.5L508.4,709.3L508.5,709.6L508.7,709.4L508.8,709.6L509.0,709.8L509.1,709.7L509.3,709.5L509.4,709.6L509.6,709.9L509.7,709.6L509.9,709.8L510.0,709.8L510.2,709.7L510.4,709.9L510.5,709.7L510.7,709.8L510.8,709.9L511.0,709.8L511.1,709.9L511.3,710.1L511.4,710.2L511.6,710.3L511.7,710.0L511.9,710.2L512.0,710.2L512.2,710.3L512.3,710.3L512.5,710.5L512.6,710.3L512.8,710.2L512.9,710.5L513.1,710.3L513.2,710.6L513.4,710.5L513.5,710.7L513.7,710.6L513.9,710.7L514.0,710.6L514.2,710.7L514.3,710.6L514.5,710.9L514.6,710.8L514.8,710.7L514.9,710.8L515.1,710.8L515.2,711.0L515.4,710.8L515.5,711.1L515.7,711.1L515.8,710.9L516.0,711.2L516.1,711.0L516.3,711.0L516.4,711.2L516.6,711.1L516.7,711.4L516.9,711.3L517.0,711.3L517.2,711.5L517.3,711.2L517.5,711.5L517.6,711.3L517.8,711.4L517.9,711.7L518.1,711.6L518.2,711.5L518.4,711.5L518.5,711.9L518.7,711.8L518.8,711.9L519.0,711.6L519.1,711.9L519.3,711.8L519.4,711.8L519.6,711.8L519.7,712.0L519.9,711.9L520.0,712.0L520.2,711.9L520.3,712.2L520.5,712.2L520.6,712.3L520.8,712.2L520.9,712.4L521.1,712.3L521.2,712.3L521.4,712.3L521.5,712.4L521.7,712.3L521.8,712.3L522.0,712.3L522.1,712.4L522.3,712.3L522.4,712.7L522.6,712.6L522.7,712.7L522.9,712.5L523.0,712.7L523.2,712.9L523.3,712.8L523.5,712.8L523.6,712.8L523.8,712.7L523.9,712.8L524.1,712.8L524.2,712.9L524.4,713.0L524.5,713.2L524.7,712.9L524.8,713.0L525.0,713.0L525.1,713.0L525.3,713.1L525.5,713.1L525.6,713.3L525.8,713.1L525.9,713.5L526.1,713.3L526.2,713.6L526.4,713.5L526.5,713.6L526.7,713.5L526.8,713.7L527.0,713.4L527.1,713.7L527.3,713.6L527.4,713.8L527.6,713.8L527.7,713.7L527.9,713.7L528.0,713.7L528.2,713.8L528.3,713.8L528.5,713.9L528.7,714.2L528.8,714.0L529.0,714.0L529.1,714.1L529.3,714.1L529.4,714.3L529.6,714.3L529.7,714.1L529.9,714.2L530.0,714.4L530.2,714.6L530.3,714.5L530.5,714.4L530.6,714.7L530.8,714.3L530.9,714.4L531.1,714.7L531.2,714.6L531.4,714.5L531.5,714.7L531.7,714.9L531.9,714.8L532.0,714.7L532.2,714.7L532.3,714.7L532.5,715.0L532.6,714.9L532.8,715.1L532.9,714.8L533.1,714.9L533.2,714.8L533.4,715.0L533.5,714.9L533.7,715.0L533.9,715.1L534.0,715.1L534.2,715.0L534.3,715.0L534.5,715.4L534.6,715.1L534.8,715.3L534.9,715.2L535.1,715.3L535.2,715.1L535.4,715.2L535.5,715.2L535.7,715.4L535.8,715.5L536.0,715.4L536.1,715.5L536.3,715.3L536.4,715.2L536.6,715.5L536.8,715.4L536.9,715.5L537.1,715.4L537.2,715.5L537.4,715.6L537.5,715.7L537.7,715.4L537.8,715.5L538.0,715.7L538.1,715.4L538.3,715.4L538.4,715.5L538.6,715.4L538.8,715.7L538.9,715.7L539.1,715.5L539.2,715.5L539.4,715.4L539.5,715.5L539.7,715.5L539.8,715.6L540.0,715.7L540.1,715.5L540.3,715.5L540.4,715.7L540.6,715.5L540.8,715.5L540.9,715.6L541.1,715.6L541.2,715.5L541.4,715.7L541.5,715.6L541.7,715.8L541.8,715.7L542.0,715.9L542.1,715.8L542.3,715.8L542.5,715.8L542.6,715.7L542.8,715.9L542.9,715.8L543.1,715.9L543.2,715.8L543.4,715.8L543.5,715.7L543.7,715.9L543.8,715.7L544.0,715.6L544.1,715.6L544.3,715.7L544.5,715.7L544.6,715.9L544.8,715.7L545.0,715.7L545.1,715.9L545.3,715.9L545.5,715.7L545.6,715.7L545.8,715.7L546.0,715.8L546.1,716.0L546.3,716.1L546.5,715.9L546.6,715.8L546.8,715.9L547.0,715.8L547.1,715.8L547.3,715.7L547.5,715.9L547.6,716.0L547.8,716.0L548.0,715.8L548.1,715.9L548.3,715.8L548.5,716.0L548.6,715.9L548.8,716.1L549.0,716.1L549.1,715.8L549.3,715.9L549.5,716.1L549.6,715.9L549.8,715.9L550.0,715.9L550.1,716.1L550.3,716.1L550.5,716.0L550.6,716.1L550.8,716.0L551.0,715.8L551.1,716.1L551.3,715.9L551.5,715.8L551.6,716.1L551.8,715.8L552.0,716.0L552.1,716.0L552.3,716.1L552.5,715.9L552.6,715.9L552.8,715.9L553.0,715.9L553.2,716.0L553.3,715.9L553.5,716.1L553.7,715.9L553.8,715.9L554.0,715.9L554.2,716.2L554.3,716.1L554.5,716.1L554.7,716.0L554.8,716.0L555.0,715.9L555.2,716.1L555.3,716.0L555.5,715.9L555.7,715.9L555.8,715.9L556.0,716.1L556.2,716.2L556.3,715.9L556.5,716.1L556.7,716.0L556.8,716.1L557.0,716.2L557.2,716.1L557.3,716.1L557.5,716.0L557.7,715.9L557.8,716.1L558.0,716.1L558.2,716.0L558.3,716.0L558.5,716.0L558.7,715.9L558.8,716.0L559.0,716.0L559.2,716.1L559.3,716.1L559.5,716.1L559.7,716.2L559.8,716.2L560.0,716.2L560.2,716.2L560.4,716.2L560.6,716.1L560.8,716.2L560.9,716.1L561.1,716.2L561.3,716.2L561.5,716.2L561.7,716.1L561.9,716.0L562.1,716.1L562.3,716.1L562.5,716.2L562.6,716.3L562.8,716.2L563.0,716.2L563.2,716.3L563.4,716.2L563.6,716.3L563.8,716.1L564.0,716.3L564.2,716.3L564.3,716.4L564.5,716.3L564.7,716.3L564.9,716.3L565.1,716.3L565.3,716.3L565.5,716.2L565.7,716.3L565.9,716.4L566.0,716.3L566.2,716.4L566.4,716.3L566.6,716.3L566.8,716.3L567.0,716.3L567.2,716.3L567.4,716.4L567.6,716.5L567.7,716.5L567.9,716.4L568.1,716.4L568.3,716.4L568.5,716.5L568.7,716.4L568.9,716.5L569.1,716.4L569.3,716.5L569.4,716.4L569.6,716.4L569.8,716.5L570.0,716.5L570.2,716.6L570.4,716.5L570.6,716.5L570.8,716.6L571.0,716.5L571.1,716.5L571.3,716.6L571.5,716.6L571.7,716.6L571.9,716.6L572.1,716.6L572.3,716.6L572.5,716.6L572.7,716.7L572.8,716.6L573.0,716.6L573.2,716.7L573.4,716.7L573.6,716.6L573.8,716.6L574.0,716.6L574.2,716.7L574.4,716.7L574.5,716.7L574.7,716.7L574.9,716.7L575.1,716.7L575.3,716.8L575.5,716.8L575.7,716.7L575.9,716.8L576.1,716.8L576.2,716.8L576.4,716.8L576.6,716.8L576.8,716.8L577.0,716.8L577.2,716.8L577.4,716.8L577.6,716.9L577.8,716.9L577.9,716.9L578.1,716.9L578.3,716.9L578.5,716.9L578.7,716.9L580.2,717.0L581.8,717.0L583.3,717.1L584.9,717.2L586.4,717.3L588.0,717.4L589.5,717.4L591.0,717.5L592.6,717.6L594.1,717.7L595.7,717.8L597.2,717.9L598.7,717.9L600.3,718.0L601.8,718.1L603.4,718.2L604.9,718.3L606.5,718.3L608.0,718.4L609.5,718.5L611.1,718.5L612.6,718.6L614.2,718.6L615.7,718.7L617.3,718.7L618.8,718.8L620.4,718.8L621.9,718.9L623.4,718.9L625.0,719.0L626.5,719.1L628.1,719.2L629.6,719.3L631.2,719.4L632.7,719.6L634.3,719.7L635.8,719.9L637.4,720.0L638.9,720.2" stroke="#c0c0c0" stroke-dasharray="4.8 8.2" stroke-dashoffset="4.2"/>
<path d="M184.6,332.0L184.6,333.5L184.6,335.0L184.6,336.5L184.6,338.0L184.6,339.5L184.6,341.0L184.6,342.5L184.6,344.0L184.6,345.5L184.6,347.0L184.6,348.5L184.6,350.0L184.6,351.5L184.6,353.0L184.6,354.5L184.6,356.0L184.6,357.5L184.6,359.0L184.6,360.5L184.6,362.0L184.6,363.5L184.6,365.0L184.6,366.5L184.6,368.0L184.6,369.5L184.6,371.0L184.6,372.5L184.6,374.0L184.6,375.5L184.6,377.0L184.6,378.5L184.6,380.0L184.6,381.5L184.6,383.0L184.6,384.5L184.6,386.0L184.6,387.5L184.6,389.0L184.6,390.5L184.6,392.0L184.6,393.5L184.6,395.0L184.6,396.5L184.6,398.0L184.6,399.5L184.6,401.0L184.6,402.5L184.6,404.0L184.6,405.5L184.6,407.0L184.6,408.5L184.6,410.0L184.6,411.5L184.6,413.0L184.6,414.5L184.6,416.0L184.5,417.5L184.5,419.0L184.5,420.5L184.5,422.0L184.5,423.5L184.5,425.0L184.5,426.5L184.5,428.0L184.5,429.5L184.5,431.0L184.5,432.5L184.5,434.0L184.5,435.5L184.5,437.0L184.5,438.5L184.5,440.0L184.5,441.5L184.5,443.0L184.5,444.5L184.5,446.0L184.5,447.5L184.5,449.0L184.5,450.5L184.5,452.0L184.5,453.5L184.5,455.0L184.5,456.5L184.5,458.0L184.5,459.5L184.5,461.0L184.5,462.5L184.5,464.0L184.5,465.5L184.5,467.0L184.5,468.5L184.5,470.0L184.5,471.5L184.5,473.0L184.5,474.5L184.5,476.0L184.5,477.5L184.5,479.0L184.5,480.5L184.5,482.0L184.5,483.5L184.5,485.0L184.5,486.5L184.5,488.0L184.5,489.5L184.5,491.0L184.5,492.5L184.5,494.0L184.5,495.5L184.5,497.0L184.5,498.5L184.5,500.0L184.5,501.5L184.5,503.0L184.5,504.5L184.5,506.0L184.5,507.5L184.5,509.0L184.5,510.5L184.5,512.0L184.5,513.5L184.5,515.0L184.5,516.6L184.5,518.1L184.5,519.6L184.6,521.1L184.6,522.6L184.6,524.1L184.6,525.6L184.6,527.1L184.6,528.6L184.6,530.1L184.6,531.6L184.6,533.1L184.6,534.6L184.7,536.1L184.7,537.6L184.7,539.1L184.7,540.6L184.7,542.1L184.7,543.6L184.7,545.1L184.7,546.7L184.8,548.2L184.8,549.7L184.8,551.2L184.8,552.7L184.8,554.2L184.8,555.7L184.8,557.2L184.8,558.7L184.9,560.2L184.9,561.7L184.9,563.2L184.9,564.7L184.9,566.2L184.9,567.7L184.9,569.2L184.9,570.7L185.0,572.2L185.0,573.7L185.0,575.3L185.0,576.8L185.0,578.3L185.0,579.8L185.0,581.3L185.0,582.8L185.0,584.3L185.0,585.8L185.0,587.3L185.0,588.8L185.1,590.3L185.1,591.8L185.1,593.3L185.1,594.8L185.1,596.3L185.1,597.8L185.1,599.3L185.1,600.8L185.1,602.3L185.1,603.8L185.1,605.3L185.1,606.9L185.1,608.4L185.1,609.9L185.1,611.4L185.0,612.9L185.0,614.4L185.0,615.9L185.0,617.4L185.0,618.9L185.0,620.4L185.0,621.9L185.0,623.4L185.0,624.9L184.9,626.4L184.9,627.9L184.9,629.4L184.9,630.9L184.9,632.4L184.9,633.9L184.8,635.4L184.8,636.9L184.8,638.5L184.8,640.0L184.7,641.5L184.7,643.0L184.7,644.5L184.6,646.0L184.6,647.5L184.6,649.0L184.5,650.5L184.5,652.0L184.4,653.5L184.4,655.0L184.4,656.6L184.3,658.3L184.3,659.9L184.2,661.5L184.2,663.1L184.1,664.8L184.1,666.4L184.0,668.0L183.9,669.6L183.8,671.2L183.7,672.8L183.5,674.4L183.4,676.0L183.3,677.6L183.1,679.2L183.0,680.8" stroke="#ff0000" stroke-dasharray="4.8 8.2" stroke-dashoffset="8.6"/>
<path d="M410.8,332.0L410.8,333.5L410.8,335.0L410.8,336.6L410.8,338.1L410.8,339.6L410.9,341.1L410.9,342.6L410.9,344.2L410.9,345.7L410.9,347.2L410.9,348.7L411.0,350.2L411.0,351.8L411.0,353.3L411.0,354.8L411.0,356.3L411.1,357.8L411.1,359.4L411.1,360.9L411.1,362.4L411.1,363.9L411.1,365.4L411.2,367.0L411.2,368.5L411.2,370.0L411.2,371.6L411.2,373.1L411.3,374.7L411.3,376.3L411.3,377.8L411.3,379.4L411.3,380.9L411.3,382.5L411.4,384.1L411.4,385.6L411.4,387.2L411.4,388.8L411.4,390.3L411.5,391.9L411.5,393.4L411.5,395.0L411.5,396.6L411.5,398.1L411.6,399.7L411.6,401.2L411.6,402.8L411.6,404.4L411.6,405.9L411.6,407.5L411.7,409.1L411.7,410.6L411.7,412.2L411.7,413.8L411.7,415.3L411.8,416.9L411.8,418.4L411.8,420.0L411.8,421.6L411.8,423.1L411.9,424.7L411.9,426.3L411.9,427.8L411.9,429.4L411.9,430.9L411.9,432.5L412.0,434.1L412.0,435.6L412.0,437.2L412.0,438.8L412.0,440.3L412.1,441.9L412.1,443.4L412.1,445.0L412.1,446.6L412.1,448.1L412.2,449.7L412.2,451.3L412.2,452.8L412.2,454.4L412.2,455.9L412.3,457.5L412.3,459.1L412.3,460.6L412.3,462.2L412.4,463.8L412.4,465.3L412.4,466.9L412.5,468.4L412.5,470.0L412.5,471.6L412.6,473.1L412.6,474.7L412.7,476.3L412.7,477.8L412.8,479.4L412.8,480.9L412.9,482.5L412.9,484.1L413.0,485.6L413.0,487.2L413.1,488.8L413.1,490.3L413.2,491.9L413.2,493.4L413.2,495.0L413.3,496.6L413.3,498.1L413.4,499.7L413.4,501.3L413.5,502.8L413.5,504.4L413.5,505.9L413.6,507.5L413.6,509.1L413.7,510.6L413.7,512.2L413.8,513.8L413.8,515.3L413.9,516.9L413.9,518.4L414.0,520.0L414.1,521.5L414.1,523.1L414.2,524.6L414.2,526.2L414.3,527.7L414.4,529.2L414.4,530.8L414.5,532.3L414.6,533.9L414.7,535.4L414.8,536.9L414.9,538.5L415.0,540.0L415.1,541.6L415.2,543.1L415.4,544.7L415.5,546.2L415.7,547.8L415.8,549.3L416.0,550.9L416.1,552.5L416.3,554.0L416.5,555.6L416.7,557.1L416.9,558.7L417.1,560.2L417.3,561.8L417.5,563.3L417.7,564.8L417.9,566.3L418.2,567.8L418.4,569.3L418.7,570.8L418.9,572.3L419.2,573.8L419.5,575.3L419.7,576.8L420.0,578.2L420.4,579.7L420.7,581.2L421.1,582.7L421.4,584.1L421.8,585.6L422.2,587.1L422.6,588.5L423.0,590.0L423.4,591.5L423.9,592.9L424.3,594.4L424.8,595.8L425.3,597.3L425.8,598.7L426.4,600.2L427.0,601.6L427.5,603.1L428.1,604.5L428.7,606.0L429.2,607.4L429.7,608.9L430.2,610.5L430.7,612.1L431.2,613.7L431.7,615.4L432.1,617.0L432.6,618.6L432.7,620.2L432.8,621.9L432.9,623.5L433.0,625.2L433.1,626.8L433.2,628.4L433.3,630.1L433.4,631.7L433.5,633.3L433.6,635.0L433.7,636.6L433.9,638.2L434.0,639.8L434.2,641.5L434.4,643.1L434.6,644.7L434.9,646.3L435.2,648.0L435.6,649.6L436.0,651.3L436.4,652.9L436.8,654.5L437.3,656.1L437.8,657.7L438.3,659.2L438.8,660.7L439.3,662.2L439.8,663.7L440.4,665.1L441.0,666.6L441.6,668.1L442.2,669.5L442.8,671.0L443.5,672.4L444.2,673.8L444.8,675.2L445.5,676.5L446.2,677.9L446.9,679.2L447.7,680.6L448.4,681.9L449.2,683.2L450.0,684.5L450.1,684.6L450.2,684.7L450.2,684.9L450.3,685.0L450.4,685.1L450.5,685.3L450.6,685.4L450.7,685.5L450.7,685.6L450.8,685.8L450.9,685.9L451.0,686.0L451.1,686.1L451.2,686.3L451.2,686.3L451.3,686.5L451.4,686.6L451.5,686.8L451.6,686.9L451.7,687.0L451.8,687.2L451.9,687.2L451.9,687.4L452.0,687.5L452.1,687.6L452.2,687.7L452.3,687.8L452.4,688.0L452.5,688.0L452.6,688.2L452.6,688.3L452.7,688.4L452.8,688.6L452.9,688.6L453.0,688.7L453.1,688.9L453.2,689.1L453.3,689.2L453.4,689.3L453.5,689.4L453.5,689.5L453.6,689.6L453.7,689.8L453.8,689.9L453.9,690.0L454.0,690.2L454.1,690.3L454.2,690.5L454.3,690.5L454.4,690.6L454.4,690.8L454.5,690.8L454.6,691.0L454.7,691.2L454.8,691.1L454.9,691.3L455.0,691.4L455.1,691.6L455.2,691.8L455.2,691.9L455.3,692.1L455.4,692.0L455.5,692.2L455.6,692.3L455.7,692.5L455.8,692.6L455.9,692.8L456.0,692.9L456.0,692.9L456.1,693.1L456.2,693.0L456.3,693.4L456.4,693.4L456.4,693.6L456.5,693.7L456.6,693.6L456.6,693.7L456.7,693.9L456.8,693.8L456.8,694.0L456.9,694.1L457.0,694.1L457.0,694.2L457.1,694.5L457.1,694.4L457.2,694.6L457.3,694.7L457.3,694.9L457.4,694.8L457.5,695.0L457.5,695.1L457.6,695.3L457.7,695.4L457.7,695.5L457.8,695.4L457.9,695.6L457.9,695.6L458.0,695.9L458.0,696.0L458.1,695.9L458.2,696.0L458.2,696.1L458.3,696.2L458.4,696.4L458.4,696.5L458.5,696.5L458.6,696.5L458.6,696.7L458.7,696.8L458.8,697.0L458.8,697.2L458.9,697.2L458.9,697.2L459.0,697.4L459.1,697.5L459.1,697.4L459.2,697.7L459.3,697.8L459.3,697.9L459.4,698.0L459.5,698.0L459.5,698.1L459.6,698.1L459.7,698.3L459.7,698.2L459.8,698.3L459.8,698.5L459.9,698.6L460.0,698.7L460.0,698.7L460.1,698.8L460.2,698.9L460.2,699.0L460.3,699.2L460.4,699.2L460.4,699.5L460.5,699.6L460.6,699.5L460.6,699.6L460.7,699.7L460.8,699.8L460.8,699.9L460.9,700.2L461.0,700.3L461.0,700.3L461.1,700.4L461.2,700.3L461.3,700.4L461.3,700.6L461.4,700.6L461.5,700.9L461.5,700.8L461.6,700.8L461.7,701.2L461.7,701.2L461.8,701.2L461.9,701.4L461.9,701.3L462.0,701.6L462.1,701.8L462.2,701.8L462.2,701.9L462.3,701.8L462.4,702.0L462.4,702.0L462.5,702.3L462.6,702.3L462.6,702.5L462.7,702.4L462.8,702.5L462.9,702.7L462.9,702.9L463.0,702.9L463.1,703.0L463.1,703.1L463.2,703.2L463.3,703.1L463.3,703.3L463.4,703.3L463.5,703.3L463.6,703.4L463.6,703.6L463.7,703.6L463.8,703.9L463.8,704.1L463.9,704.0L464.0,704.3L464.1,704.4L464.1,704.4L464.2,704.3L464.3,704.3L464.3,704.4L464.4,704.5L464.5,704.6L464.6,704.8L464.6,705.0L464.7,705.1L464.8,705.1L464.9,705.2L464.9,705.4L465.0,705.2L465.1,705.5L465.2,705.7L465.2,705.7L465.3,705.8L465.4,705.7L465.5,705.7L465.5,706.0L465.6,705.9L465.7,706.2L465.8,706.4L465.9,706.2L465.9,706.3L466.0,706.6L466.1,706.6L466.2,706.4L466.2,706.5L466.3,706.6L466.4,707.0L466.5,707.0L466.6,706.8L466.7,707.2L466.7,707.4L466.8,707.3L466.9,707.2L467.0,707.4L467.1,707.3L467.2,707.3L467.3,707.8L467.3,707.8L467.4,707.8L467.5,708.1L467.6,707.9L467.7,708.2L467.8,708.3L467.9,708.1L468.0,708.2L468.1,708.3L468.2,708.3L468.3,708.6L468.4,708.5L468.5,708.7L468.6,708.6L468.6,709.0L468.7,708.9L468.8,709.0L468.9,709.1L469.0,709.4L469.1,709.2L469.2,709.5L469.3,709.4L469.4,709.5L469.5,709.6L469.6,709.4L469.7,709.7L469.8,709.6L469.9,709.6L470.0,710.1L470.1,709.8L470.2,710.1L470.3,710.3L470.4,710.2L470.5,710.2L470.6,710.4L470.7,710.5L470.8,710.7L470.9,710.4L471.0,710.7L471.1,710.6L471.2,710.7L471.3,711.0L471.4,710.9L471.5,711.0L471.6,711.2L471.7,711.3L471.8,711.2L471.9,711.3L472.0,711.3L472.1,711.4L472.2,711.6L472.4,711.5L472.5,711.6L472.6,711.6L472.7,711.9L472.8,711.9L472.9,712.0L473.0,712.1L473.1,711.8L473.2,712.0L473.3,712.3L473.4,712.3L473.5,712.0L473.6,712.0L473.8,712.3L473.9,712.1L474.0,712.3L474.1,712.2L474.2,712.6L474.3,712.7L474.4,712.8L474.6,712.5L474.7,712.8L474.8,712.9L474.9,712.6L475.0,713.1L475.1,713.2L475.3,712.8L475.4,713.3L475.5,713.0L475.6,713.1L475.7,713.4L475.9,713.4L476.0,713.1L476.1,713.3L476.2,713.3L476.3,713.3L476.5,713.2L476.6,713.4L476.7,713.6L476.8,713.3L476.9,713.6L477.1,713.6L477.2,713.4L477.3,713.6L477.4,713.8L477.6,713.8L477.7,713.6L477.8,714.2L477.9,714.1L478.0,714.2L478.2,713.8L478.3,713.9L478.4,713.8L478.5,714.3L478.7,714.0L478.8,714.0L478.9,714.2L479.0,714.5L479.1,714.5L479.3,714.2L479.4,714.2L479.5,714.7L479.6,714.5L479.8,714.6L479.9,714.3L480.0,714.3L480.1,714.7L480.2,714.6L480.4,714.5L480.5,715.0L480.6,714.9L480.7,715.0L480.9,714.6L481.0,715.1L481.1,714.7L481.3,715.2L481.4,715.0L481.5,715.0L481.6,715.2L481.8,715.5L481.9,715.1L482.0,715.1L482.2,715.3L482.3,715.2L482.4,715.2L482.6,715.3L482.7,715.2L482.8,715.4L483.0,715.5L483.1,715.5L483.2,715.8L483.3,715.6L483.5,715.8L483.6,715.6L483.7,715.7L483.9,715.6L484.0,715.8L484.1,715.7L484.3,716.1L484.4,716.1L484.5,715.9L484.7,716.1L484.8,716.4L484.9,716.0L485.1,716.4L485.2,716.2L485.3,716.3L485.4,716.6L485.6,716.3L485.7,716.4L485.8,716.6L486.0,716.8L486.1,716.5L486.2,716.8L486.4,716.8L486.5,716.8L486.6,716.7L486.8,716.7L486.9,716.5L487.0,716.6L487.2,716.6L487.3,717.1L487.4,716.8L487.6,716.8L487.7,716.8L487.8,717.3L487.9,717.3L488.1,717.2L488.2,717.1L488.3,717.1L488.5,717.1L488.6,717.3L488.7,717.1L488.9,717.3L489.0,717.3L489.1,717.7L489.3,717.8L489.4,717.6L489.5,717.4L489.7,717.9L489.8,717.5L489.9,717.6L490.0,717.4L490.2,717.7L490.3,717.8L490.4,717.8L490.6,717.7L490.7,717.9L490.8,717.6L491.0,717.8L491.1,717.8L491.2,718.0L491.4,717.8L491.5,717.8L491.6,718.0L491.8,718.0L491.9,718.3L492.0,718.3L492.2,718.4L492.3,718.4L492.4,718.5L492.6,718.6L492.7,718.4L492.8,718.4L492.9,718.8L493.1,718.3L493.2,718.7L493.3,718.7L493.5,718.4L493.6,718.9L493.7,718.9L493.9,718.8L494.0,718.9L494.1,719.0L494.3,718.6L494.4,718.9L494.5,718.9L494.7,719.1L494.8,719.1L494.9,719.2L495.1,719.1L495.2,719.3L495.3,719.2L495.5,719.2L495.6,719.0L495.7,718.9L495.9,719.0L496.0,719.1L496.1,719.0L496.3,719.5L496.4,719.3L496.5,719.4L496.7,719.4L496.8,719.5L496.9,719.4L497.1,719.1L497.2,719.6L497.3,719.6L497.5,719.5L497.6,719.6L497.7,719.7L497.9,719.3L498.0,719.8L498.2,719.5L498.3,719.4L498.4,719.5L498.6,719.8L498.7,719.6L498.8,719.9L499.0,720.1L499.1,719.8L499.2,719.8L499.4,719.8L499.5,720.0L499.6,720.0L499.8,720.0L499.9,720.0L500.0,719.7L500.2,719.8L500.3,719.8L500.5,720.2L500.6,719.9L500.7,720.1L500.9,719.8L501.0,719.8L501.1,720.0L501.3,720.2L501.4,720.3L501.5,720.3L501.7,720.1L501.8,720.2L502.0,720.2L502.1,720.2L502.2,720.1L502.4,720.5L502.5,720.1L502.6,720.6L502.8,720.6L502.9,720.1L503.0,720.4L503.2,720.6L503.3,720.7L503.4,720.4L503.6,720.4L503.7,720.3L503.9,720.8L504.0,720.4L504.1,720.6L504.3,720.4L504.4,720.6L504.5,720.9L504.7,720.5L504.8,720.9L504.9,720.7L505.1,721.0L505.2,720.9L505.3,720.6L505.5,721.1L505.6,720.8L505.7,720.6L505.9,720.6L506.0,720.9L506.2,720.9L506.3,720.8L506.4,720.8L506.6,720.9L506.7,720.9L506.8,721.3L507.0,720.8L507.1,721.3L507.2,721.3L507.4,720.9L507.5,721.4L507.6,721.3L507.8,721.5L507.9,721.1L508.1,721.2L508.2,721.3L508.3,721.6L508.5,721.4L508.6,721.3L508.7,721.4L508.9,721.3L509.0,721.2L509.1,721.3L509.3,721.7L509.4,721.4L509.5,721.8L509.7,721.4L509.8,721.5L509.9,721.7L510.1,721.5L510.2,721.6L510.4,722.0L510.5,722.0L510.6,722.0L510.8,721.9L510.9,722.1L511.0,722.1L511.2,721.9L511.3,722.0L511.4,721.7L511.6,722.1L511.7,722.0L511.8,722.2L512.0,722.1L512.1,721.9L512.2,721.8L512.4,722.4L512.5,721.9L512.7,722.1L512.8,722.1L512.9,722.1L513.1,722.4L513.2,722.5L513.3,722.1L513.5,722.4L513.6,722.2L513.7,722.4L513.9,722.3L514.0,722.2L514.1,722.2L514.3,722.3L514.4,722.7L514.6,722.5L514.7,722.4L514.8,722.8L515.0,722.9L515.1,722.6L515.2,722.4L515.4,722.5L515.5,722.4L515.6,722.6L515.8,722.5L515.9,722.6L516.0,722.6L516.2,722.8L516.3,723.0L516.5,723.0L516.6,722.8L516.7,722.8L516.9,722.9L517.0,722.8L517.1,722.8L517.3,722.7L517.4,722.8L517.5,723.3L517.7,722.8L517.8,723.0L517.9,723.1L518.1,723.3L518.2,722.9L518.4,723.0L518.5,723.0L518.6,723.1L518.8,723.1L518.9,723.4L519.0,723.4L519.2,723.4L519.3,722.9L519.4,723.0L519.6,723.4L519.7,723.5L519.8,723.3L520.0,723.4L520.1,723.0L520.3,723.3L520.4,723.6L520.5,723.6L520.7,723.6L520.8,723.7L520.9,723.3L521.1,723.2L521.2,723.3L521.3,723.5L521.5,723.6L521.6,723.8L521.7,723.7L521.9,723.6L522.0,723.7L522.2,723.6L522.3,723.6L522.4,723.3L522.6,723.8L522.7,723.5L522.8,723.9L523.0,723.8L523.1,723.6L523.2,723.5L523.4,723.6L523.5,723.8L523.6,723.9L523.8,723.5L523.9,723.5L524.1,723.8L524.2,723.9L524.3,723.8L524.5,723.7L524.6,723.9L524.7,723.6L524.9,723.8L525.0,723.9L525.1,724.2L525.3,724.0L525.4,724.2L525.6,724.0L525.7,723.8L525.8,723.8L526.0,724.3L526.1,724.1L526.2,723.9L526.4,723.8L526.5,724.1L526.6,724.2L526.8,724.0L526.9,724.0L527.0,724.2L527.2,724.4L527.3,724.0L527.5,723.9L527.6,724.1L527.7,724.1L527.9,724.3L528.0,724.0L528.1,724.4L528.3,724.4L528.4,724.3L528.5,724.1L528.7,724.6L528.8,724.2L529.0,724.5L529.1,724.2L529.2,724.2L529.4,724.5L529.5,724.2L529.6,724.6L529.8,724.4L529.9,724.2L530.0,724.2L530.2,724.4L530.3,724.5L530.5,724.7L530.6,724.2L530.7,724.4L530.9,724.3L531.0,724.8L531.1,724.3L531.3,724.3L531.4,724.3L531.5,724.5L531.7,724.8L531.8,724.8L532.0,724.7L532.1,724.9L532.2,724.9L532.4,724.5L532.5,724.4L532.6,724.9L532.8,724.8L532.9,724.4L533.0,724.8L533.2,724.6L533.3,724.6L533.5,724.6L533.6,724.5L533.7,724.4L533.9,724.6L534.0,724.7L534.1,725.1L534.3,724.6L534.4,725.1L534.5,724.6L534.7,724.7L534.8,725.0L535.0,725.0L535.1,724.8L535.2,724.6L535.4,724.9L535.5,724.8L535.6,725.2L535.8,724.7L535.9,724.9L536.0,725.2L536.2,724.7L536.3,724.9L536.5,725.2L536.6,725.2L536.7,724.7L536.9,724.7L537.0,724.8L537.1,725.3L537.3,724.9L537.4,725.2L537.5,725.3L537.7,725.0L537.8,725.0L538.0,725.4L538.1,725.2L538.2,725.0L538.4,725.3L538.5,725.1L538.6,725.0L538.8,724.9L538.9,725.3L539.0,725.5L539.2,725.3L539.3,725.5L539.5,725.0L539.6,725.1L539.7,725.2L539.9,725.5L540.0,725.6L540.1,725.2L540.3,725.2L540.4,725.3L540.5,725.3L540.7,725.6L540.8,725.2L540.9,725.5L541.1,725.5L541.2,725.6L541.4,725.6L541.5,725.5L541.6,725.3L541.8,725.3L541.9,725.4L542.0,725.6L542.2,725.2L542.3,725.3L542.4,725.6L542.6,725.3L542.7,725.2L542.9,725.2L543.0,725.6L543.1,725.4L543.3,725.8L543.4,725.8L543.5,725.8L543.7,725.4L543.8,725.3L543.9,725.4L544.1,725.6L544.2,725.7L544.4,725.6L544.5,725.5L544.6,725.6L544.8,725.7L544.9,725.8L545.0,725.8L545.2,725.9L545.3,725.8L545.4,725.5L545.6,725.9L545.7,725.6L545.9,725.8L546.0,725.7L546.1,725.9L546.3,725.6L546.4,725.6L546.5,725.6L546.7,725.6L546.8,726.0L547.0,725.8L547.1,725.7L547.2,725.8L547.4,726.1L547.5,725.8L547.6,725.7L547.8,726.0L547.9,725.9L548.0,726.2L548.2,725.7L548.3,725.9L548.5,726.1L548.6,726.1L548.7,726.1L548.9,725.7L549.0,725.8L549.1,725.7L549.3,725.8L549.4,726.2L549.5,726.0L549.7,726.2L549.8,725.9L550.0,726.2L550.1,726.0L550.2,725.9L550.4,726.2L550.5,726.3L550.6,725.8L550.8,726.1L550.9,726.1L551.0,725.9L551.2,726.0L551.3,725.9L551.5,725.9L551.6,725.9L551.7,726.1L551.9,726.2L552.0,725.9L552.1,725.8L552.2,726.0L552.4,726.2L552.5,726.0L552.6,726.0L552.7,726.0L552.9,726.3L553.0,726.2L553.1,725.9L553.2,726.0L553.4,726.1L553.5,726.2L553.6,726.3L553.7,726.0L553.9,726.0L554.0,726.3L554.1,726.2L554.2,726.1L554.4,726.1L554.5,726.4L554.6,726.1L554.7,726.3L554.9,726.2L555.0,726.2L555.1,726.4L555.2,726.5L555.4,726.2L555.5,726.1L555.6,726.4L555.7,726.1L555.9,726.0L556.0,726.5L556.1,726.2L556.2,726.4L556.4,726.3L556.5,726.5L556.6,726.3L556.7,726.2L556.9,726.1L557.0,726.3L557.1,726.4L557.2,726.5L557.4,726.2L557.5,726.4L557.6,726.3L557.7,726.3L557.9,726.2L558.0,726.3L558.1,726.4L558.2,726.5L558.4,726.2L558.5,726.4L558.6,726.5L558.7,726.6L558.9,726.3L559.0,726.2L559.1,726.6L559.2,726.6L559.4,726.4L559.5,726.2L559.6,726.6L559.7,726.4L559.9,726.6L560.0,726.5L560.1,726.5L560.2,726.3L560.4,726.5L560.5,726.3L560.6,726.4L560.7,726.6L560.9,726.6L561.0,726.4L561.1,726.4L561.2,726.4L561.4,726.5L561.5,726.4L561.6,726.4L561.7,726.4L561.9,726.6L562.0,726.6L562.1,726.4L562.2,726.5L562.4,726.6L562.5,726.4L562.6,726.6L562.7,726.4L562.9,726.6L563.0,726.6L563.1,726.6L563.2,726.5L563.4,726.5L563.5,726.6L563.6,726.5L563.7,726.6L563.9,726.6L564.0,726.6L564.1,726.5L564.2,726.6L564.4,726.6L564.5,726.5L564.6,726.7L564.7,726.7L564.9,726.6L565.0,726.6L565.1,726.6L565.2,726.6L565.4,726.6L565.5,726.6L565.6,726.6L565.7,726.6L565.9,726.6L566.0,726.6L566.1,726.7L566.2,726.6L566.4,726.7L566.5,726.7L566.6,726.7L566.7,726.6L566.9,726.7L567.0,726.7L567.1,726.7L567.2,726.7L567.4,726.7L567.5,726.8L567.6,726.7L567.7,726.7L567.9,726.7L568.0,726.8L568.1,726.7L568.2,726.8L568.4,726.8L568.5,726.7L568.6,726.8L568.7,726.8L568.9,726.7L569.0,726.8L569.1,726.8L569.2,726.8L569.4,726.8L569.5,726.8L569.6,726.8L569.7,726.8L569.9,726.8L570.0,726.8L571.5,726.9L573.1,726.9L574.6,727.0L576.2,727.0L577.7,727.1L579.2,727.1L580.8,727.2L582.3,727.2L583.9,727.3L585.4,727.3L587.0,727.3L588.5,727.4L590.1,727.5L591.7,727.5L593.3,727.6L594.9,727.6L596.5,727.7L598.1,727.7L599.7,727.8L601.3,727.8L602.9,727.9L604.5,727.9L606.1,728.0L607.8,728.1L609.4,728.1L611.1,728.2L612.7,728.3L614.4,728.3L616.0,728.4L617.2,729.3L618.5,730.3L619.7,731.2L620.8,732.3L621.8,733.5L622.8,734.7L623.6,736.1L624.5,737.4L625.2,738.8L625.9,740.2L626.4,741.6L627.0,743.1L627.5,744.5L628.0,746.0L629.3,746.7L630.7,747.5L632.0,748.2L633.4,748.8L635.2,749.3L637.0,749.6L638.9,750.0" stroke="#ff0000" stroke-dasharray="4.8 8.2" stroke-dashoffset="0.7"/>
<path d="M228.1,439.6L228.1,441.1L228.1,442.6L228.0,444.1L228.0,445.6L228.0,447.1L228.0,448.6L228.0,450.1L227.9,451.7L227.9,453.2L227.9,454.7L227.9,456.2L227.9,457.7L227.8,459.2L227.8,460.7L227.8,462.2L227.8,463.7L227.8,465.2L227.7,466.7L227.7,468.2L227.7,469.7L227.7,471.2L227.7,472.7L227.6,474.3L227.6,475.8L227.6,477.3L227.6,478.8L227.6,480.3L227.5,481.8L227.5,483.3L227.5,484.8L227.5,486.3L227.5,487.8L227.4,489.3L227.4,490.8L227.4,492.3L227.4,493.8L227.4,495.3L227.3,496.9L227.3,498.4L227.3,499.9L227.3,501.4L227.3,502.9L227.2,504.4L227.2,505.9L227.2,507.4L227.2,508.9L227.2,510.4L227.1,511.9L227.1,513.4L227.1,514.9L227.1,516.4L227.1,517.9L227.0,519.5L227.0,521.0L227.0,522.5L227.0,524.0L227.0,525.5L226.9,527.0L226.9,528.5L226.9,530.0L226.9,531.5L226.9,533.0L226.8,534.6L226.8,536.1L226.8,537.6L226.8,539.1L226.8,540.7L226.7,542.2L226.7,543.7L226.7,545.2L226.7,546.7L226.7,548.3L226.6,549.8L226.6,551.3L226.6,552.8L226.6,554.3L226.6,555.9L226.6,557.4L226.5,558.9L226.5,560.4L226.5,562.0L226.5,563.5L226.5,565.0L226.4,566.5L226.4,568.0L226.4,569.6L226.4,571.1L226.4,572.6L226.3,574.1L226.3,575.7L226.3,577.2L226.3,578.7L226.3,580.2L226.2,581.7L226.2,583.3L226.2,584.8L226.2,586.3L226.2,587.8L226.1,589.3L226.1,590.9L226.1,592.4L226.1,593.9L226.1,595.4L226.0,597.0L226.0,598.5L226.0,600.0L226.0,601.5L226.0,603.0L225.9,604.5L225.9,606.0L225.9,607.5L225.9,609.0L225.9,610.5L225.9,612.0L225.9,613.5L225.8,615.0L225.8,616.5L225.8,618.0L225.8,619.5L225.8,621.0L225.8,622.5L225.8,624.0L225.8,625.5L225.7,627.0L225.7,628.5L225.7,630.0L225.7,631.5L225.7,633.0L225.7,634.5L225.6,636.0L225.6,637.5L225.6,639.0L225.6,640.5L225.6,642.0L225.5,643.5L225.5,645.0L225.5,646.5L225.4,648.0L225.4,649.5L225.4,651.0L225.3,652.5L225.3,654.0L225.2,655.5L225.2,657.0L225.2,658.5L225.1,660.0L225.0,661.6L225.0,663.1L224.9,664.7L224.9,666.3L224.8,667.8L224.8,669.4L224.7,670.9L224.7,672.5L224.6,674.1L224.5,675.6L224.5,677.2L224.4,678.8L224.3,680.3L224.2,681.9L224.1,683.4L224.0,685.0L223.9,686.5L223.8,688.0L223.6,689.5L223.5,691.0L223.4,692.5L223.2,694.0L223.1,695.5L223.0,697.0L222.8,698.5L222.7,700.0L222.5,701.5L222.4,703.0" stroke="#0000ff" stroke-dasharray="4.8 8.2" stroke-dashoffset="3.5"/>
<path d="M394.7,332.0L394.8,333.5L394.8,335.0L394.9,336.5L394.9,338.0L395.0,339.6L395.1,341.1L395.1,342.6L395.2,344.1L395.3,345.6L395.3,347.1L395.4,348.6L395.4,350.1L395.5,351.6L395.6,353.2L395.6,354.7L395.7,356.2L395.7,357.7L395.8,359.2L395.9,360.7L395.9,362.2L396.0,363.7L396.0,365.2L396.1,366.8L396.2,368.3L396.2,369.8L396.3,371.3L396.3,372.8L396.4,374.3L396.5,375.8L396.5,377.3L396.6,378.8L396.7,380.4L396.7,381.9L396.8,383.4L396.8,384.9L396.9,386.4L397.0,387.9L397.0,389.4L397.1,390.9L397.2,392.4L397.2,394.0L397.3,395.5L397.4,397.0L397.4,398.5L397.5,400.0L397.6,401.5L397.6,403.0L397.7,404.5L397.8,406.1L397.8,407.6L397.9,409.1L398.0,410.6L398.0,412.1L398.1,413.6L398.2,415.2L398.3,416.7L398.3,418.2L398.4,419.7L398.5,421.2L398.5,422.7L398.6,424.2L398.7,425.8L398.8,427.3L398.8,428.8L398.9,430.3L399.0,431.8L399.0,433.3L399.1,434.9L399.2,436.4L399.3,437.9L399.3,439.4L399.4,440.9L399.5,442.4L399.6,443.9L399.7,445.5L399.7,447.0L399.8,448.5L399.9,450.0L400.0,451.5L400.1,453.0L400.1,454.5L400.2,456.1L400.3,457.6L400.4,459.1L400.5,460.6L400.6,462.1L400.6,463.6L400.7,465.2L400.8,466.7L400.9,468.2L401.0,469.7L401.1,471.2L401.1,472.7L401.2,474.3L401.3,475.8L401.4,477.3L401.5,478.8L401.6,480.3L401.7,481.8L401.8,483.3L401.9,484.9L402.0,486.4L402.1,487.9L402.2,489.4L402.3,490.9L402.4,492.4L402.5,493.9L402.6,495.5L402.7,497.0L402.8,498.5L402.9,500.0L403.0,501.5L403.1,503.0L403.2,504.6L403.4,506.1L403.5,507.6L403.6,509.1L403.7,510.7L403.9,512.2L404.0,513.7L404.1,515.2L404.2,516.7L404.4,518.3L404.5,519.8L404.6,521.3L404.8,522.8L404.9,524.4L405.0,525.9L405.2,527.4L405.3,528.9L405.5,530.4L405.6,532.0L405.8,533.5L405.9,535.0L406.1,536.6L406.2,538.1L406.4,539.7L406.5,541.3L406.7,542.8L406.8,544.4L407.0,545.9L407.2,547.5L407.3,549.1L407.5,550.6L407.7,552.2L407.8,553.8L408.0,555.3L408.2,556.9L408.3,558.4L408.5,560.0L408.7,561.5L408.8,563.0L409.0,564.5L409.2,566.1L409.3,567.6L409.5,569.1L409.7,570.6L409.9,572.1L410.0,573.6L410.2,575.1L410.4,576.7L410.5,578.2L410.7,579.7L410.9,581.2L411.1,582.7L411.2,584.2L411.4,585.7L411.6,587.2L411.8,588.7L411.9,590.2L412.1,591.8L412.3,593.3L412.5,594.8L412.7,596.3L412.8,597.8L413.0,599.3L413.2,600.8L413.4,602.3L413.6,603.8L413.8,605.3L414.0,606.9L414.2,608.4L414.4,609.9L414.6,611.4L414.8,613.0L415.0,614.5L415.2,616.0L415.4,617.5L415.7,619.0L415.9,620.6L416.1,622.1L416.4,623.6L416.6,625.1L416.8,626.6L417.1,628.1L417.4,629.6L417.6,631.1L417.9,632.6L418.2,634.1L418.4,635.6L418.7,637.1L419.0,638.6L419.3,640.1L419.6,641.6L419.9,643.1L420.2,644.6L420.5,646.1L420.9,647.6L421.2,649.1L421.5,650.6L421.9,652.1L422.2,653.6L422.5,655.1L422.9,656.5L423.3,658.0L423.6,659.5L424.0,661.0L424.4,662.5L424.7,664.0L425.1,665.5L425.5,667.0L425.8,668.5L426.2,670.0L426.6,671.5L427.0,673.0L427.5,674.5L427.9,676.0L428.4,677.4L428.9,678.9L429.4,680.4L430.0,681.8L430.5,683.2L431.1,684.7L431.7,686.1L432.4,687.5L433.0,688.9L433.7,690.3L433.7,690.4L433.8,690.5L433.8,690.6L433.9,690.7L433.9,690.7L434.0,690.8L434.0,690.9L434.1,691.0L434.1,691.1L434.2,691.2L434.2,691.3L434.3,691.4L434.3,691.5L434.4,691.5L434.4,691.6L434.4,691.7L434.5,691.8L434.5,691.9L434.6,692.0L434.6,692.1L434.7,692.2L434.7,692.3L434.8,692.3L434.8,692.4L434.9,692.5L434.9,692.6L435.0,692.7L435.0,692.8L435.1,692.8L435.1,692.9L435.2,693.0L435.2,693.1L435.3,693.2L435.3,693.3L435.4,693.3L435.4,693.5L435.5,693.6L435.5,693.6L435.6,693.7L435.6,693.8L435.7,693.8L435.8,694.0L435.8,694.1L435.9,694.1L435.9,694.2L436.0,694.3L436.0,694.4L436.1,694.5L436.1,694.5L436.2,694.6L436.2,694.7L436.3,694.8L436.3,694.9L436.4,695.0L436.4,695.1L436.5,695.2L436.5,695.2L436.6,695.3L436.6,695.4L436.7,695.5L436.7,695.6L436.8,695.6L436.9,695.8L436.9,695.9L437.0,695.9L437.0,696.0L437.1,696.1L437.1,696.1L437.2,696.2L437.2,696.4L437.3,696.5L437.3,696.5L437.4,696.6L437.4,696.8L437.5,696.7L437.5,696.9L437.6,696.9L437.7,697.0L437.7,697.2L437.8,697.2L437.8,697.3L437.9,697.3L437.9,697.4L438.0,697.6L438.0,697.7L438.1,697.7L438.1,697.8L438.2,698.0L438.2,698.0L438.3,698.0L438.3,698.2L438.4,698.2L438.5,698.3L438.5,698.4L438.6,698.5L438.6,698.5L438.7,698.6L438.7,698.8L438.8,698.8L438.8,699.0L438.9,698.9L438.9,699.1L439.0,699.2L439.0,699.3L439.1,699.4L439.1,699.4L439.2,699.6L439.2,699.6L439.3,699.6L439.3,699.9L439.4,699.8L439.4,699.9L439.5,700.1L439.5,700.1L439.6,700.2L439.6,700.2L439.7,700.5L439.7,700.4L439.8,700.4L439.8,700.8L439.9,700.6L439.9,700.9L440.0,701.0L440.1,701.0L440.1,701.0L440.1,701.1L440.2,701.2L440.2,701.3L440.3,701.5L440.3,701.6L440.4,701.6L440.4,701.6L440.5,701.8L440.5,701.8L440.6,701.8L440.6,702.1L440.7,702.2L440.7,702.1L440.8,702.3L440.8,702.4L440.9,702.5L440.9,702.5L441.0,702.7L441.0,702.7L441.1,702.9L441.1,703.0L441.2,703.1L441.2,703.1L441.3,703.1L441.3,703.2L441.4,703.4L441.4,703.4L441.5,703.6L441.5,703.5L441.6,703.8L441.6,703.7L441.7,703.8L441.7,703.9L441.7,704.1L441.8,704.2L441.8,704.2L441.9,704.2L441.9,704.4L442.0,704.6L442.0,704.6L442.1,704.8L442.1,704.7L442.2,705.0L442.2,705.1L442.3,705.1L442.3,705.1L442.4,705.2L442.4,705.4L442.4,705.3L442.5,705.5L442.5,705.6L442.6,705.6L442.6,705.8L442.7,705.9L442.7,705.8L442.8,706.1L442.8,706.1L442.9,706.2L442.9,706.3L443.0,706.3L443.0,706.5L443.0,706.5L443.1,706.8L443.1,706.7L443.2,706.9L443.2,707.0L443.3,707.0L443.3,707.2L443.4,707.1L443.4,707.3L443.5,707.4L443.5,707.5L443.6,707.5L443.6,707.5L443.6,707.6L443.7,707.8L443.7,707.8L443.8,707.9L443.8,708.0L443.9,708.2L443.9,708.3L444.0,708.2L444.0,708.5L444.1,708.5L444.1,708.7L444.1,708.6L444.2,708.9L444.2,708.9L444.3,709.1L444.3,709.2L444.4,709.3L444.4,709.1L444.5,709.3L444.5,709.3L444.6,709.6L444.6,709.5L444.7,709.6L444.7,709.7L444.7,709.8L444.8,710.1L444.8,710.2L444.9,710.1L444.9,710.3L445.0,710.3L445.0,710.4L445.1,710.5L445.1,710.6L445.2,710.6L445.2,710.7L445.3,710.9L445.3,710.9L445.4,711.0L445.4,711.3L445.4,711.1L445.5,711.2L445.5,711.5L445.6,711.3L445.6,711.5L445.7,711.8L445.7,711.8L445.8,711.7L445.8,711.8L445.9,711.9L445.9,712.0L446.0,712.3L446.0,712.4L446.1,712.5L446.1,712.6L446.2,712.7L446.2,712.8L446.2,712.9L446.3,713.0L446.3,712.8L446.4,712.9L446.4,713.0L446.5,713.2L446.5,713.2L446.6,713.3L446.6,713.5L446.7,713.5L446.7,713.5L446.8,713.6L446.8,713.8L446.9,713.9L446.9,714.0L447.0,714.0L447.0,714.0L447.1,714.2L447.1,714.2L447.2,714.3L447.2,714.5L447.3,714.5L447.3,714.7L447.4,714.8L447.4,714.7L447.5,714.9L447.5,714.9L447.6,715.1L447.6,715.2L447.7,715.3L447.7,715.5L447.8,715.5L447.8,715.4L447.9,715.6L447.9,715.6L448.0,715.6L448.0,715.9L448.1,715.9L448.1,716.2L448.2,716.1L448.2,716.3L448.3,716.3L448.3,716.2L448.4,716.5L448.4,716.5L448.5,716.6L448.5,716.6L448.6,716.6L448.7,717.0L448.7,716.8L448.8,716.9L448.8,717.0L448.9,717.1L448.9,717.4L449.0,717.6L449.0,717.5L449.1,717.5L449.1,717.8L449.2,717.7L449.2,717.7L449.3,718.0L449.4,717.9L449.4,718.0L449.5,718.1L449.5,718.2L449.6,718.3L449.7,718.5L449.7,718.7L449.8,718.7L449.9,718.6L449.9,718.9L450.0,718.8L450.0,719.0L450.1,719.3L450.2,719.3L450.2,719.5L450.3,719.5L450.3,719.4L450.4,719.5L450.5,719.7L450.5,719.9L450.6,719.8L450.7,719.9L450.7,720.2L450.8,720.1L450.8,720.3L450.9,720.4L451.0,720.6L451.0,720.4L451.1,720.5L451.1,720.9L451.2,720.9L451.3,720.8L451.3,720.9L451.4,721.0L451.5,721.2L451.5,721.5L451.6,721.3L451.6,721.4L451.7,721.7L451.8,721.7L451.8,721.9L451.9,722.1L452.0,722.2L452.0,722.2L452.1,722.2L452.2,722.1L452.2,722.5L452.3,722.4L452.3,722.5L452.4,722.7L452.5,722.9L452.5,722.9L452.6,723.1L452.7,723.2L452.7,723.0L452.8,723.2L452.9,723.5L452.9,723.5L453.0,723.7L453.1,723.5L453.1,723.7L453.2,723.9L453.2,723.9L453.3,724.0L453.4,724.2L453.4,724.0L453.5,724.1L453.6,724.5L453.6,724.4L453.7,724.4L453.8,724.7L453.8,724.6L453.9,724.6L454.0,724.8L454.0,724.8L454.1,725.0L454.2,725.3L454.3,725.2L454.3,725.5L454.4,725.2L454.5,725.4L454.5,725.4L454.6,725.7L454.7,725.6L454.7,725.9L454.8,726.0L454.9,726.1L454.9,726.3L455.0,726.3L455.1,726.5L455.2,726.2L455.2,726.4L455.3,726.8L455.4,726.6L455.4,726.6L455.5,726.8L455.6,726.8L455.7,727.1L455.7,727.1L455.8,727.0L455.9,727.5L455.9,727.3L456.0,727.3L456.1,727.6L456.2,727.8L456.2,727.6L456.3,727.5L456.4,727.7L456.5,727.7L456.5,728.0L456.6,728.0L456.7,728.3L456.8,728.1L456.8,728.1L456.9,728.4L457.0,728.3L457.1,728.5L457.2,728.6L457.3,728.7L457.4,729.0L457.5,729.2L457.6,729.0L457.7,729.2L457.8,729.2L457.9,729.6L458.0,729.5L458.1,729.4L458.2,729.8L458.3,729.6L458.4,729.7L458.5,729.7L458.6,730.2L458.7,730.2L458.8,730.2L458.9,730.4L459.0,730.5L459.1,730.3L459.2,730.7L459.3,730.8L459.4,731.0L459.5,730.7L459.6,731.0L459.7,731.1L459.8,731.3L459.9,731.2L460.0,731.4L460.1,731.6L460.2,731.5L460.3,731.6L460.4,731.9L460.5,731.6L460.6,732.1L460.7,731.9L460.8,732.1L460.9,732.1L461.0,732.4L461.2,732.4L461.3,732.5L461.4,732.4L461.5,732.8L461.6,732.8L461.7,732.9L461.8,732.8L461.9,732.9L462.0,733.0L462.1,732.9L462.2,733.4L462.4,733.3L462.5,733.6L462.6,733.3L462.7,733.6L462.8,733.8L462.9,733.8L463.0,733.8L463.1,733.7L463.2,734.0L463.4,734.0L463.5,734.3L463.6,734.4L463.7,734.5L463.8,734.6L463.9,734.3L464.0,734.3L464.1,734.5L464.3,734.5L464.4,734.6L464.5,734.9L464.6,734.8L464.7,735.1L464.8,735.1L464.9,735.1L465.1,735.5L465.2,735.2L465.3,735.6L465.4,735.5L465.5,735.7L465.6,735.5L465.8,735.8L465.9,736.0L466.0,735.8L466.1,736.0L466.2,736.1L466.3,736.1L466.5,736.3L466.6,736.3L466.7,736.3L466.8,736.5L466.9,736.6L467.0,736.5L467.2,736.7L467.3,736.8L467.4,736.8L467.5,736.7L467.6,736.9L467.7,737.1L467.9,737.2L468.0,736.9L468.1,737.2L468.2,737.3L468.3,737.4L468.5,737.3L468.6,737.5L468.7,737.6L468.8,737.6L468.9,737.9L469.1,737.8L469.2,737.6L469.3,737.8L469.4,738.0L469.6,737.8L469.7,738.2L469.8,738.2L469.9,738.3L470.0,738.1L470.2,738.1L470.3,738.5L470.4,738.4L470.6,738.4L470.7,738.5L470.8,738.7L470.9,738.6L471.1,738.8L471.2,738.6L471.3,739.0L471.4,738.9L471.6,738.8L471.7,739.0L471.8,739.2L471.9,739.0L472.1,739.2L472.2,739.4L472.3,739.5L472.4,739.2L472.6,739.5L472.7,739.5L472.8,739.6L472.9,739.3L473.1,739.6L473.2,739.6L473.3,739.9L473.4,739.8L473.6,739.6L473.7,739.8L473.8,740.1L473.9,740.2L474.1,740.1L474.2,740.0L474.3,740.3L474.4,740.4L474.6,740.2L474.7,740.4L474.8,740.4L474.9,740.3L475.0,740.7L475.2,740.5L475.3,740.5L475.4,741.0L475.5,740.7L475.6,741.1L475.8,741.2L475.9,741.0L476.0,741.1L476.1,741.1L476.2,741.4L476.3,741.6L476.5,741.6L476.6,741.5L476.7,741.6L476.8,741.6L476.9,741.9L477.0,741.7L477.1,741.8L477.3,742.1L477.4,742.0L477.5,742.4L477.6,742.3L477.7,742.2L477.8,742.2L477.9,742.5L478.0,742.4L478.2,742.6L478.3,742.8L478.4,742.9L478.5,742.8L478.6,743.0L478.7,743.2L478.8,743.0L478.9,743.1L479.1,743.4L479.2,743.3L479.3,743.6L479.4,743.3L479.5,743.4L479.6,743.6L479.7,743.7L479.8,743.8L480.0,743.8L480.1,744.0L480.2,744.3L480.3,744.4L480.4,744.3L480.5,744.2L480.6,744.4L480.7,744.3L480.9,744.4L481.0,744.8L481.1,744.6L481.2,744.7L481.2,745.1L481.3,744.9L481.3,745.1L481.4,745.2L481.4,745.6L481.5,745.7L481.5,745.6L481.6,745.7L481.6,746.2L481.7,745.9L481.7,746.3L481.8,746.4L481.8,746.5L481.8,746.6L481.9,746.7L481.9,746.8L482.0,747.1L482.0,747.0L482.1,747.3L482.1,747.3L482.2,747.5L482.2,747.8L482.3,747.8L482.3,748.0L482.3,748.1L482.4,748.0L482.4,748.4L482.5,748.6L482.5,748.7L482.6,748.7L482.6,749.0L482.6,749.2L482.7,749.0L482.7,749.1L482.8,749.3L482.8,749.3L482.8,749.5L482.9,749.6L482.9,749.7L482.9,750.0L483.0,749.9L483.0,750.3L483.0,750.6L483.1,750.7L483.1,750.5L483.1,750.9L483.2,750.8L483.2,751.2L483.2,751.3L483.3,751.4L483.3,751.5L483.3,751.9L483.3,751.7L483.4,752.1L483.4,751.9L483.4,752.0L483.5,752.2L483.5,752.3L483.5,752.7L483.5,752.6L483.6,752.9L483.6,752.9L483.6,753.1L483.6,753.4L483.6,753.4L483.7,753.4L483.7,753.8L483.7,753.7L483.7,753.8L483.8,754.2L483.8,754.4L483.8,754.5L483.8,754.6L483.9,754.8L483.9,755.0L483.9,754.9L483.9,754.9L484.0,755.2L484.0,755.3L484.0,755.6L484.0,755.5L484.1,755.5L484.1,755.7L484.1,755.9L484.1,756.2L484.2,756.4L484.2,756.4L484.2,756.5L484.2,756.8L484.3,756.8L484.3,757.0L484.3,757.0L484.3,757.4L484.4,757.3L484.4,757.5L484.4,757.5L484.5,757.8L484.5,757.9L484.5,758.0L484.5,758.3L484.6,758.2L484.6,758.5L484.6,758.7L484.7,758.6L484.7,759.0L484.7,758.8L484.7,759.0L484.8,759.4L484.8,759.3L484.8,759.5L484.9,759.7L484.9,760.0L484.9,760.2L485.0,760.0L485.0,760.3L485.0,760.5L485.0,760.5L485.1,760.6L485.1,760.6L485.1,760.7L485.2,760.9L485.2,761.0L485.2,761.4L485.3,761.5L485.3,761.4L485.3,761.9L485.4,762.1L485.4,762.0L485.4,762.1L485.5,762.5L485.5,762.5L485.5,762.7L485.6,762.6L485.6,762.9L485.6,762.9L485.7,762.9L485.7,763.0L485.8,763.3L485.8,763.4L485.8,763.5L485.9,763.9L485.9,763.8L486.0,763.9L486.0,764.0L486.1,764.1L486.1,764.4L486.1,764.5L486.2,764.5L486.2,764.8L486.3,764.9L486.3,764.9L486.4,765.2L486.4,765.2L486.5,765.3L486.5,765.7L486.6,765.7L486.6,765.8L486.7,766.0L486.7,766.2L486.8,766.3L486.8,766.6L486.9,766.6L486.9,766.5L487.0,766.9L487.0,766.7L487.1,766.9L487.1,767.0L487.2,767.2L487.2,767.3L487.3,767.5L487.3,767.7L487.4,767.7L487.5,767.9L487.5,768.1L487.6,768.3L487.6,768.5L487.7,768.4L487.7,768.5L487.8,768.9L487.8,768.9L487.9,768.9L488.0,768.5L488.2,768.5L488.3,768.5L488.4,768.4L488.5,768.4L488.6,768.5L488.8,768.2L488.9,768.2L489.0,768.0L489.1,768.1L489.2,768.0L489.4,767.7L489.5,767.6L489.6,767.8L489.7,767.8L489.8,767.5L490.0,767.4L490.1,767.3L490.2,767.4L490.3,767.3L490.5,767.4L490.6,767.2L490.7,767.1L490.8,767.1L490.9,767.1L491.1,767.1L491.2,766.7L491.3,766.6L491.4,766.5L491.5,766.4L491.7,766.7L491.8,766.7L491.9,766.4L492.0,766.4L492.1,766.3L492.3,766.2L492.4,766.1L492.5,766.2L492.6,765.9L492.7,765.7L492.9,765.6L493.0,765.9L493.1,765.8L493.2,765.8L493.3,765.7L493.5,765.3L493.6,765.3L493.7,765.2L493.8,765.4L494.0,765.0L494.1,765.0L494.2,765.1L494.3,765.0L494.4,764.7L494.6,764.7L494.7,764.6L494.8,764.6L494.9,764.6L495.0,764.4L495.2,764.6L495.3,764.4L495.4,764.4L495.5,764.2L495.6,764.4L495.8,764.0L495.9,764.2L496.0,763.9L496.1,763.9L496.3,763.9L496.4,763.9L496.5,763.7L496.6,763.7L496.7,763.4L496.9,763.5L497.0,763.4L497.1,763.4L497.2,763.1L497.3,763.3L497.5,763.0L497.6,762.9L497.7,762.8L497.8,763.1L497.9,762.7L498.1,762.9L498.2,762.5L498.3,762.7L498.4,762.5L498.5,762.6L498.7,762.6L498.8,762.5L498.9,762.3L499.0,762.3L499.2,762.0L499.3,761.9L499.4,761.9L499.5,761.9L499.6,762.0L499.8,761.6L499.9,761.6L500.0,761.7L500.1,761.6L500.3,761.4L500.4,761.4L500.5,761.2L500.6,761.2L500.7,761.5L500.9,761.2L501.0,761.3L501.1,761.0L501.2,761.2L501.4,761.2L501.5,760.7L501.6,760.9L501.7,761.0L501.9,760.9L502.0,760.5L502.1,760.7L502.2,760.7L502.4,760.4L502.5,760.5L502.6,760.5L502.8,760.2L502.9,760.5L503.0,760.4L503.1,760.0L503.3,760.1L503.4,760.1L503.5,759.8L503.6,760.0L503.8,760.1L503.9,759.8L504.0,759.8L504.1,760.0L504.3,759.9L504.4,759.9L504.5,759.5L504.7,759.8L504.8,759.5L504.9,759.4L505.1,759.3L505.2,759.5L505.3,759.4L505.4,759.3L505.6,759.3L505.7,759.2L505.8,759.2L506.0,759.0L506.1,759.2L506.2,758.9L506.4,758.8L506.5,759.2L506.6,758.7L506.7,759.0L506.9,759.0L507.0,758.8L507.1,758.8L507.3,758.6L507.4,758.5L507.5,758.8L507.7,758.7L507.8,758.7L507.9,758.5L508.1,758.3L508.2,758.5L508.3,758.6L508.5,758.3L508.6,758.3L508.7,758.1L508.8,758.4L509.0,758.3L509.1,757.9L509.2,758.2L509.4,758.1L509.5,758.0L509.6,758.0L509.8,758.1L509.9,758.0L510.0,757.8L510.2,758.0L510.3,757.8L510.4,757.8L510.6,757.7L510.7,757.8L510.8,757.7L511.0,757.6L511.1,757.5L511.2,757.3L511.4,757.5L511.5,757.5L511.6,757.3L511.7,757.1L511.9,757.4L512.0,757.3L512.1,757.2L512.3,757.0L512.4,757.3L512.5,757.2L512.7,757.1L512.8,756.8L512.9,756.8L513.1,756.9L513.2,756.6L513.3,757.0L513.5,756.6L513.6,756.6L513.7,756.8L513.8,756.5L514.0,756.6L514.1,756.6L514.2,756.4L514.4,756.3L514.5,756.5L514.6,756.5L514.8,756.5L514.9,756.1L515.0,756.2L515.2,756.2L515.3,756.0L515.4,756.3L515.6,756.2L515.7,756.2L515.8,756.2L516.0,756.1L516.1,755.8L516.2,755.9L516.4,756.0L516.5,755.6L516.6,755.6L516.7,755.9L516.9,755.5L517.0,755.8L517.1,755.5L517.3,755.4L517.4,755.4L517.5,755.6L517.7,755.5L517.8,755.2L517.9,755.5L518.1,755.2L518.2,755.4L518.3,755.2L518.5,755.3L518.6,755.1L518.7,755.0L518.9,755.3L519.0,755.2L519.1,755.0L519.3,754.9L519.4,754.9L519.5,754.9L519.7,754.7L519.8,755.0L519.9,754.7L520.1,754.9L520.2,754.7L520.3,754.8L520.5,754.8L520.6,754.4L520.7,754.3L520.9,754.5L521.0,754.5L521.1,754.3L521.3,754.3L521.4,754.2L521.5,754.1L521.7,754.2L521.8,754.2L521.9,754.2L522.1,754.3L522.2,754.1L522.3,754.2L522.5,754.1L522.6,754.0L522.7,754.0L522.9,753.8L523.0,754.0L523.1,754.0L523.3,754.0L523.4,753.9L523.5,754.0L523.7,753.8L523.8,753.7L523.9,753.9L524.1,753.7L524.2,753.4L524.4,753.7L524.5,753.5L524.6,753.6L524.8,753.4L524.9,753.4L525.0,753.4L525.2,753.4L525.3,753.4L525.4,753.2L525.6,753.3L525.7,753.4L525.8,752.9L526.0,753.2L526.1,753.1L526.3,753.0L526.4,752.8L526.5,752.9L526.7,752.7L526.8,752.7L526.9,752.8L527.1,752.8L527.2,752.9L527.3,752.8L527.5,752.8L527.6,752.7L527.8,752.4L527.9,752.5L528.0,752.4L528.2,752.6L528.3,752.4L528.4,752.5L528.6,752.4L528.7,752.2L528.8,752.2L529.0,752.5L529.1,752.3L529.3,752.4L529.4,752.3L529.5,752.2L529.7,752.3L529.8,752.4L529.9,752.2L530.1,752.3L530.2,752.1L530.4,752.0L530.5,751.9L530.6,752.1L530.8,751.9L530.9,752.0L531.0,752.0L531.2,752.0L531.3,751.9L531.4,752.0L531.6,752.2L531.7,752.0L531.9,752.1L532.0,752.2L532.1,752.1L532.3,752.2L532.4,752.1L532.5,752.1L532.7,752.1L532.8,752.2L533.0,752.0L533.1,752.0L533.2,752.1L533.4,751.9L533.5,752.0L533.6,752.3L533.8,751.9L533.9,752.1L534.1,752.0L534.2,752.2L534.3,752.3L534.5,752.1L534.6,752.2L534.7,752.0L534.9,752.1L535.0,752.2L535.2,752.3L535.3,752.5L535.4,752.5L535.6,752.3L535.7,752.3L535.8,752.5L536.0,752.6L536.1,752.5L536.3,752.5L536.4,752.5L536.5,752.4L536.7,752.5L536.8,752.5L536.9,752.6L537.1,752.7L537.2,752.5L537.4,752.7L537.5,752.4L537.6,752.5L537.7,752.6L537.8,752.8L537.9,752.9L538.0,753.0L538.1,753.3L538.3,753.0L538.4,753.5L538.5,753.3L538.6,753.4L538.7,753.6L538.8,753.6L538.9,753.8L539.0,753.6L539.1,754.0L539.3,753.8L539.4,754.0L539.5,754.1L539.6,754.3L539.7,754.5L539.8,754.2L539.9,754.3L540.0,754.6L540.1,754.6L540.2,754.9L540.4,755.0L540.5,755.2L540.6,755.3L540.7,755.4L540.8,755.2L540.9,755.4L541.0,755.3L541.1,755.6L541.2,755.7L541.3,755.8L541.4,756.1L541.5,755.9L541.6,756.0L541.7,756.3L541.8,756.4L541.8,756.2L541.9,756.4L542.0,756.7L542.1,756.5L542.2,756.9L542.3,757.0L542.3,757.0L542.4,756.9L542.5,757.2L542.6,757.1L542.6,757.6L542.7,757.4L542.8,757.4L542.9,757.7L542.9,757.7L543.0,758.1L543.1,757.9L543.1,758.0L543.2,758.3L543.3,758.4L543.3,758.6L543.4,758.9L543.5,758.7L543.5,759.1L543.6,758.9L543.6,759.1L543.7,759.4L543.8,759.5L543.8,759.6L543.9,759.5L543.9,760.0L544.0,759.8L544.1,760.1L544.1,760.0L544.2,760.1L544.2,760.3L544.3,760.6L544.3,760.7L544.4,760.7L544.5,760.8L544.5,761.0L544.6,761.1L544.6,761.2L544.7,761.2L544.7,761.3L544.8,761.5L544.8,761.9L544.9,762.1L544.9,762.1L545.0,762.2L545.0,762.2L545.1,762.3L545.2,762.5L545.2,762.6L545.3,762.9L545.3,763.1L545.4,763.0L545.4,763.1L545.5,763.4L545.5,763.6L545.6,763.7L545.7,763.8L545.7,763.9L545.8,764.0L545.8,764.0L545.9,764.2L545.9,764.2L546.0,764.6L546.1,764.4L546.1,764.7L546.2,764.9L546.2,765.0L546.3,764.9L546.4,764.9L546.5,764.7L546.6,765.0L546.7,764.8L546.8,764.6L547.0,764.6L547.1,764.5L547.2,764.5L547.3,764.4L547.4,764.3L547.5,764.4L547.6,764.4L547.7,764.2L547.8,764.2L547.9,764.1L548.0,764.2L548.2,764.1L548.3,764.0L548.4,763.7L548.5,763.9L548.6,763.7L548.7,763.8L548.8,763.6L548.9,763.4L549.0,763.5L549.1,763.5L549.2,763.3L549.4,763.4L549.5,763.2L549.6,763.1L549.7,763.0L549.8,763.1L549.9,763.0L550.0,762.9L550.1,762.9L550.2,763.0L550.3,762.8L550.4,762.8L550.6,762.8L550.7,762.6L550.8,762.7L550.9,762.6L551.0,762.6L551.1,762.6L551.2,762.3L551.3,762.3L551.4,762.3L551.6,762.2L551.7,762.3L551.8,762.0L551.9,762.0L552.0,762.1L552.1,762.0L552.2,761.8L552.3,761.7L552.5,761.8L552.6,761.8L552.7,761.8L552.8,761.7L552.9,761.6L553.0,761.6L553.1,761.5L553.3,761.5L553.4,761.2L553.5,761.4L553.6,761.3L553.7,761.3L553.8,761.2L553.9,761.2L554.1,761.0L554.2,761.2L554.3,760.9L554.4,761.1L554.5,761.0L554.6,760.7L554.7,760.8L554.9,760.9L555.0,760.7L555.1,760.6L555.2,760.8L555.3,760.5L555.4,760.7L555.6,760.5L555.7,760.6L555.8,760.4L555.9,760.3L556.0,760.3L556.1,760.3L556.3,760.1L556.4,760.1L556.5,760.1L556.6,760.0L556.7,760.2L556.8,760.0L557.0,759.9L557.1,759.9L557.2,759.8L557.3,759.9L557.4,759.9L557.6,759.8L557.7,759.8L557.8,759.8L557.9,759.6L558.0,759.5L558.1,759.5L558.3,759.6L558.4,759.5L558.5,759.3L558.6,759.4L558.7,759.4L558.8,759.2L559.0,759.3L559.1,759.3L559.2,759.2L559.3,759.1L559.4,759.1L559.6,759.0L559.7,759.0L559.8,759.0L559.9,759.0L560.0,758.9L560.1,758.9L560.3,758.9L560.4,758.8L560.5,758.7L560.6,758.7L560.7,758.8L560.9,758.5L561.0,758.6L561.1,758.5L561.2,758.5L561.3,758.5L561.5,758.4L561.6,758.4L561.7,758.4L561.8,758.4L561.9,758.3L562.0,758.2L562.2,758.3L562.3,758.2L562.4,758.1L562.5,758.2L562.6,758.1L562.8,758.1L562.9,758.0L563.0,757.9L563.1,758.0L563.2,757.8L563.4,757.8L563.5,757.8L563.6,757.8L563.7,757.7L563.8,757.7L564.0,757.7L564.1,757.6L564.2,757.6L564.3,757.6L564.4,757.5L564.6,757.5L564.7,757.4L564.8,757.4L564.9,757.4L565.0,757.4L565.2,757.3L565.3,757.2L565.4,757.2L565.5,757.3L565.6,757.1L565.8,757.2L565.9,757.1L566.0,757.1L566.1,757.0L566.3,757.0L566.4,757.0L566.5,756.9L566.6,756.9L566.7,756.9L566.9,756.9L567.0,756.8L567.1,756.8L567.2,756.8L567.3,756.7L567.5,756.7L567.6,756.7L567.7,756.6L567.8,756.6L567.9,756.5L568.1,756.5L568.2,756.5L568.3,756.4L568.4,756.4L568.5,756.4L568.7,756.4L568.8,756.3L568.9,756.3L569.0,756.3L569.2,756.2L569.3,756.2L569.4,756.2L569.5,756.1L569.6,756.1L569.8,756.1L569.9,756.0L570.0,756.0L571.5,755.6L573.1,755.2L574.6,754.8L576.2,754.5L577.7,754.1L579.3,753.7L580.8,753.4L582.4,753.1L583.9,752.8L585.5,752.5L587.0,752.2L588.6,752.0L590.2,751.8L591.7,751.6L593.3,751.4L594.8,751.2L596.4,751.0L598.0,750.9L599.5,750.7L601.1,750.6L602.7,750.4L604.2,750.3L605.8,750.2L607.4,750.1L608.9,749.9L610.5,749.8L612.1,749.7L613.6,749.6L615.2,749.4L616.8,749.3L618.4,749.2L620.0,749.2L621.5,749.1L623.1,749.0L624.7,748.9L626.3,748.8L627.8,748.8L629.4,748.7L631.0,748.6L632.6,748.5L634.2,748.4L635.7,748.4L637.3,748.3L638.9,748.2" stroke="#0000ff" stroke-dasharray="4.8 8.2" stroke-dashoffset="3.5"/>
</g>
<g fill="none" stroke-width="3.7" stroke-linecap="round">
<path d="M473.95,368.75H538.15" stroke="#ff0000"/>
<path d="M473.95,403.92H538.15" stroke="#0000ff"/>
<path d="M473.95,439.09H538.15" stroke="#000"/>
<path d="M473.95,474.26H532" stroke="#c0c0c0" stroke-dasharray="4.8 8.2"/>
<path d="M473.95,509.43H532" stroke="#ff0000" stroke-dasharray="4.8 8.2"/>
<path d="M473.95,544.6H532" stroke="#0000ff" stroke-dasharray="4.8 8.2"/>
</g>
<g class="t">
<text transform="translate(545.30,378.75) scale(1,1.06)" font-size="27.9">A-M5.0</text>
<text transform="translate(545.30,413.92) scale(1,1.06)" font-size="27.9">A-M7.0</text>
<text transform="translate(545.30,449.09) scale(1,1.06)" font-size="27.9">A-M7.5</text>
<text transform="translate(545.30,484.26) scale(1,1.06)" font-size="27.9">S-M4.5</text>
<text transform="translate(545.30,519.43) scale(1,1.06)" font-size="27.9">S-M5.0</text>
<text transform="translate(545.30,554.60) scale(1,1.06)" font-size="27.9">S-M7.0</text>
<text transform="translate(177.10,835.20) scale(1,1.08)" font-size="27.9" text-anchor="middle">-50</text>
<text transform="translate(323.69,835.20) scale(1,1.08)" font-size="27.9" text-anchor="middle">0</text>
<text transform="translate(470.27,835.20) scale(1,1.08)" font-size="27.9" text-anchor="middle">50</text>
<text transform="translate(616.86,835.20) scale(1,1.08)" font-size="27.9" text-anchor="middle">100</text>
<text transform="translate(77.20,756.30) scale(1,1.08)" font-size="27.9" text-anchor="end">2.4</text>
<text transform="translate(77.20,619.47) scale(1,1.08)" font-size="27.9" text-anchor="end">2.8</text>
<text transform="translate(77.20,482.64) scale(1,1.08)" font-size="27.9" text-anchor="end">3.2</text>
<text transform="translate(77.20,345.80) scale(1,1.08)" font-size="27.9" text-anchor="end">3.6</text>
<text transform="translate(348.50,847.80) scale(1,1.06)" font-size="30.3"><tspan font-style="italic">x</tspan>(mm)</text>
<text transform="translate(39.40,411.90) scale(1.06,1)" font-size="31.1" font-style="italic">H</text>
<text transform="translate(62.00,422.20) scale(1.04,1)" font-size="17.7" font-style="italic">in</text>
</g>
</svg>
</body></html>
